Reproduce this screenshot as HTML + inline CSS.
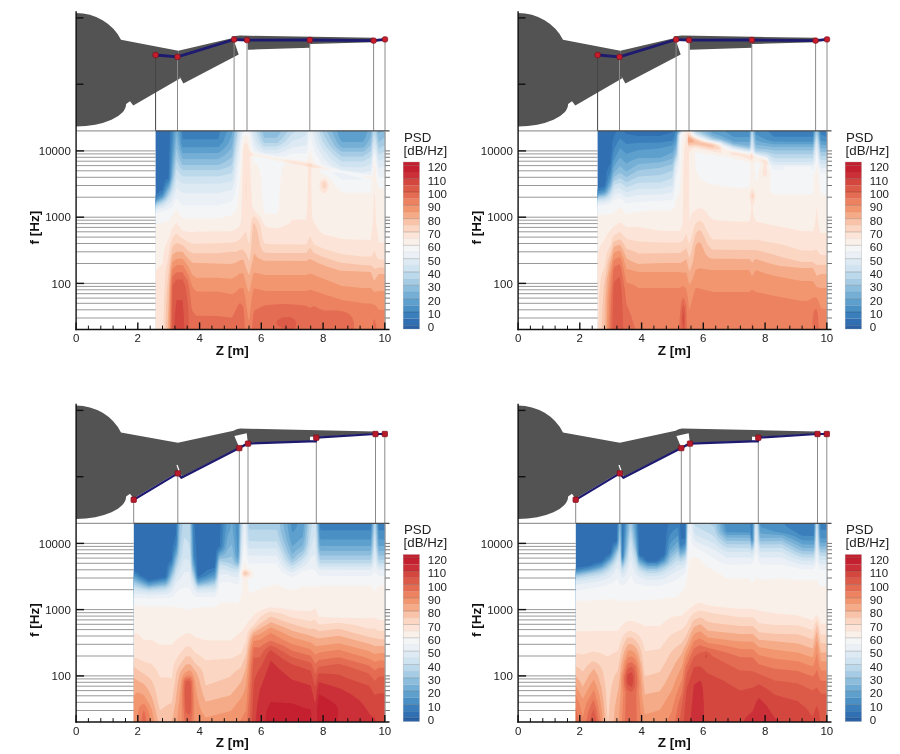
<!DOCTYPE html><html><head><meta charset="utf-8"><style>html,body{margin:0;padding:0;background:#fff;overflow:hidden;width:900px;height:754px;}svg{display:block;filter:blur(0.5px);}</style></head><body>
<svg width="900" height="754" viewBox="0 0 900 754">
<rect width="900" height="754" fill="#fff"/>
<g>
<g>
<rect x="155.6" y="130.9" width="229.2" height="198.7" fill="#306fb2"/>
<path d="M170.5 130.9l214.3 0 0 198.7-229.2 0 0-134.5 4-3.8 3-1.5 2-8.1 1.4-1.9 2.5-1.5 1.4-47.4z" fill="#3a7fbb"/>
<path d="M172.5 130.9l9.5 0 .5 7.5 1 .9 33.9 0 1.2-1.4 1.6-7 164.6 0 0 198.7-229.2 0 0-130.9 3-2.7 4-2.5 3.2-8.7 2.7-3.2 .9-2.8 2.7-47.9z" fill="#4a90c5"/>
<path d="M174.5 130.9l5.4 0 1.4 12 1.2 4.1 1 .3 34.9-.3 4.6-5.1 4.1-11 157.7 0 0 198.7-229.2 0 0-129.4 7-4.4 5.9-11.6 1.3-3.4 .7-4 3.3-45.9z" fill="#5d9fcd"/>
<path d="M175.5 130.9l2.4 0 2 14 2.6 8.2 1 .2 34.9-.2 5.3-4.2 4.2-5 3.4-6.9 1.2-6.1 104.5 0 2 6 2.9 5.2 21 0 2.9-5.2 1.7-6 17.3 0 0 198.7-229.2 0 0-128.2 7-4 1.3-1.6 4.6-8.8 1.9-5.2 .9-5z" fill="#76afd6"/>
<path d="M234.3 130.9l97.5 0 5.6 12 2.2 3 2.3 1.8 21 0 3.3-2.8 2.9-5 1.7-4 .4-5 7.1 0 .5 2.8 2.9-2.8 3.1 0 0 198.7-229.2 0 0-127.1 7-3.8 1.9-1.9 5.6-11 1.9-8 4.5-42 2.3 13.1 3.7 10.2 34.9 .2 2-.7 5.9-3.9 6-6 1-3.6z" fill="#8cbddd"/>
<path d="M236.3 130.9l25.9 0 2 6.5 1 .4 11 0 2.2-1.9 2.9-5 45.4 0 7.4 14 3.8 4 4 2.9 21 0 2-1.1 5.9-5.5 1.6-14.3 4.4 0 2 11.1 6-4.7 0 192.3-229.2 0 0-126 5-2.3 4-2.9 1.9-2.6 3.7-7 2.9-12 3.4-28.4 2.5 9.5 3.5 7 35.9 0 6.7-3 6.2-4.1 1.1-2.9 3.1-24z" fill="#a6cbe4"/>
<path d="M237.3 130.9l21.7 0 3.3 9 1.9 3 1 .2 12-.2 5.4-5 5.1-7 34.4 0 1.9 4.5 6.1 10.5 4.8 5 7 5.5 21 0 6-3.9 1.9-1.6 2.7-20 1.8 0 3.5 17.5 6-3.3 0 184.5-229.2 0 0-124.7 5-2.1 4.3-3 1.7-2 3.9-6.8 3.2-11.2 2.8-20.4 2.7 6.4 3.3 4.3 35.9 0 6.9-2 6-2.5 1.5-4.7z" fill="#bcd8eb"/>
<path d="M239.3 130.9l16.5 0 4.2 11 2.4 3 1.8 1.5 1 .1 11-.1 4.1-1.5 4.8-3.2 7-8.3 4.3-2.5 22.6 0 3.5 10 3.6 6 8.5 9 7.3 5.7 21 0 7.9-4.7 3-20.4 1-.5 4 18.2 6-2.7 0 178.1-229.2 0 0-123.2 6-2.3 3-2.1 2.3-2.2 3.6-5.6 3.7-10.4 2.3-15 4 5.5 2 2 1 .1 34.9-.1 12.9-2.8 1.4-3.7 5.9-38.9z" fill="#d0e3f0"/>
<path d="M240.3 130.9l12.7 0 3.6 11 1.8 3 2.8 2.9 3 2 12 .3 9.9-4.2 3-2 3-3 8-2.7 5-2.4 1-.7 .5-4.2 9.4 0 3.2 11 3.8 7.6 9.2 10.4 5.8 4.7 3.9 2.5 21 .1 7.9-3.3 3-20.4 1-.7 4 17.9 6-2.2 0 171.1-229.2 0 0-121.4 6-2.1 3-1.6 5.9-6.6 4-9.1 2-10.7 4.9 4.7 2.1 .9 34.9 0 12.9-2.4 1-1.2 1.4-6.3z" fill="#dde9f3"/>
<path d="M242.3 130.9l8.6 0 3.4 13.6 1.9 3.4 3 2.9 5 2.1 12 .9 7.9-2.3 8-4.1 14-1.8 2.4-14.7 4.1 0 2.8 11 2.2 6 5.4 9.4 3 3.5 4.1 4 3.2 2 8.6 2.9 7.3 1.1 13.7 1.6 7.9-1.5 3-21.2 1-.6 4 18.9 6-1.9 0 163.5-229.2 0 0-119.5 9-2.9 6.7-5.4 2.7-5 2.5-8.8 6 5.1 1 .1 33.9 0 13.9-3.2 1.4-2.2 2-8 5.8-41.9z" fill="#eaf0f6"/>
<path d="M244.3 131.5l.7-.6 3.3 0 1 1.5 3.8 17.5 1.2 1.6 7.3 2.4 15.6 2.6 6.9-.1 8-2.8 14-.3 1.6-5.4 2.4-12 3.9 14.4 7.6 13.6 1.2 .9 5.1 2 15 4.3 27.9 4 1.2-3.3 1.8-16.9 1-.5 4 23.2 6-.5 0 152.5-229.2 0 0-116.1 10-3.2 6.9-3.3 4-8.7 6 7 1 .1 34.9 0 12.9-3.8 1-.9 2.2-5.9 1.6-7 3.2-24.8 2.3-23.1 1.6-7zM332 172.8l9.9 7 18-.1 2-.2 1.1-.7-21.1-5.9-6.9-.4z" fill="#f4f5f7"/>
<path d="M245.3 135.8l1-.8 2.3 2.9 2.5 12 1.2 2 2 1.2 7.9 2 15 2.6 28.9 3.5 1.2-2.3 2.8-8.5 2.9 8.6 2 3.9 3.3 1.9 14.3 5-12.4 0-1.4 1 1.6 2 5.6 2.8 2.9 2.2 13 14.9 28.9 .2 1.4-11.1-.4-2-1-1.1-9.7-2.9 11.7 .4 1-14.6 1-1.6 1.9 19.8 2.1 8.9 6 .1 0 140.8-229.2 0 0-105.9 7-1 5.9-1.7 8-11.4 6 8.7 1 .2 34.9-.2 12.9-3 2-1.4 3-4.2 1.7-6.9 1.3-11.6 2.8-45.3 1.2-8zM252.7 156.9l.6 4 1 1.6 3.9 3.5 2.1 4.8 1 8 1.3 21 1.6 12.1 1 1 3 .7 8 .3 1-.6 .9-1.5 .6-4 1.6-27 1.1-10 1.2-3 3-3 .3-.9-4.3-2-7.5-2-19.8-3.7z" fill="#faf0ea"/>
<path d="M246.3 141.9l1.6 3 1.4 6 3.7 3-.4 1-2 1-.8 2 2.3 47.9 2.5 5 6.6 6.8 3 6.9 1 1.3 3 1.8 8 .6 6-1.5 6.9-3.2 3-3.8 14-.2 1.1-13.7 .9-37-.4-1-1.6-1.2-14-3.2-10.1-3.5 10.1 .8 14 2.4 4-.9 2.4 1.7 7.5 2.9 1.1 1-8.1 .4-1.5 .6-.2 1 .5 40 .6 7 1.6 5.8 5.7 8.1 3.3 3.4 18.9 5 28.9 .9 2.1-19.2 .9-24.6 1-3.3 1.3 29.9 2.7 19.8 6 0 0 87-229.2 0 0-58.2 2.6-3.7 4.4-4.3 1-10 1.7-7.7 3.2-6.4 3.4-10.5 3.6-5.2 1-1.1 6 8.2 9 1.6 4.9-.7 34.9-.4 5-2.5 3-2.2 1.3-3.7 .7-7 1.9-67.9 1.1-3.6zM323 178.7l2 .2 2 1.5 1.7 4.4-.1 3-1.3 3-1.3 1.5-2 .9-1 0-2.2-2.4-1.4-5 .3-3 .8-2z" fill="#fce5d8"/>
<path d="M307.1 164.5l3-.4 3.3 1.7-3.3 1-2.3-1-1.3-1zM246.3 166.5l0 37.9-.6-13.6zM323 181.8l2-.2 1.6 2.2-.1 3-1.5 2-2-.5-.7-1.5-.2-3zM253.3 216.6l1 0 1.9 1.3 2.9 3.9 1.6 5 2.1 11.9 1.4 4.1 1 .7 6 .7 34.9 .3 3-6.7 1-1.2 3.9 8 9 3.9 18 5.5 21.9 2.6 7.9 0 1.7-1.9 1.3-3.6 1 .2 1.8 5.4 2.2 2.7 6 0 0 70.2-221.6 0 .7-31 1.5-24.9 4.8-28 2.3-8.1 4-4.1 4.9 4.2 6.1 3.8 5 2.2 25.9-.4 13.9-.8 4-.7 4-2.7 1.9-2.4 1.1-2.6 2-1.2 1-1.9 2 12.8 1-1.1 1.9-21.9 .5-2z" fill="#fbd6c3"/>
<path d="M254.3 223.1l2.8 6.7 3.1 15.9 1.7 4 2.3 2.8 6 .5 35.9 0 4-5.3 3.9 5.4 9 3.9 18 5.8 21.9 2.3 7.9 .1 4 3.6 4-1.2 6 0 0 62-219.4 0 .7-24 1.4-20.9 2.4-25 2.6-13.1 4-3.5 6 2 5 5.1 5 3.1 25.9 0 12.9-1.6 5 .2 3-1.8 4-.4 3 4.3 2 5.6 1 1.2 1.7-11.1 1.8-22.9 .5-3z" fill="#f8c3a8"/>
<path d="M176.5 251.7l6 .1 5 6.2 5 4.8 38.8 1.1 5-1.5 4-2.3 3-.4 5 14.6 1 .8 5-22.3 1.4 2.9 2 2 6.5 3 41.9 .2 4-1.9 6.9 3.6 11 4.3 13 3.8 29.8 1.2 3 7.8 1 .3 4-6.1 6 0 0 55.7-217.2 0 1.7-47.9 1.1-15 2.1-12z" fill="#f5ab88"/>
<path d="M177.5 258.7l5-.2 6.1 8.2 3.9 8.3 3.9 2.7 22 .1 12.9 1 5-2.5 3-2.9 4-.1 4 15.3 1 3 1 .5 4-18.3 1-1.4 10.9 2.5 40.9 0 4-1.3 31.8 12.3 21 2 7.9 0 3 3.7 1 .4 4-1.1 6 0 0 38.7-215.7 0 .9-43.9 1.2-16 1.3-7.9 4-3.1z" fill="#f29670"/>
<path d="M176.5 265l6-.1 1 1.3 4.9 8.5 4.1 12 3.9 4.9 22 .1 13.9 2.5 4-2.4 3-3.2 4-.4 1.6 7.5 3.4 23.4 1 1.1 2.6-22.6 1.4-7.7 1-1.7 10.9 2.7 40.9 0 4-1.2 31.8 10.3 21 3.2 7.9 .2 5 2 3 4.3 6 0 0 19.9-214.8 0 .7-41.9 .6-10 1.2-8.7z" fill="#ec8260"/>
<path d="M176.5 272.2l6 0 5 8.2 1.6 6.3 2.4 20 1 4.3 3.9 4.8 21 .1 13.9 1.6 1-.5 1-1.7 5-10.6 1-1.2 1-.3 3 3.2 1.1 11.2 .4 12-73.9 0 1-47.9 .6-5.3zM273.2 304.6l10-.5 11.9 .5 11 1.2 4 2.3 3.9-2.1 6 3.2 4.7 1.4 13.3-.1 6.9 1.3 4 2 3.3 3.8 1.7 5 .2 7-102.2 0 1.4-15.5 1-3.5 9.9-5zM373.8 319.5l1 .1 .3 1 1.7 9-4.9 0z" fill="#e46c52"/>
<path d="M176.5 279.5l6 0 3.1 7.2 2.3 17.9 1.3 25-17.4 0 .7-44.1zM282.2 317.6l6.9-.5 4.3 1.5 1.9 2 .8 2 0 3-1 2.2-2.3 1.8-6.6 0-7.4-3-1.9-2-.3-3 1.6-2.2z" fill="#dc5a48"/>
<path d="M176.5 300.2l6 0 1.3 14.4 .5 15-9.9 0 .5-15z" fill="#d4473f"/>
</g>
<path d="M76.0,13.0 A50,47 0 0 1 121.0,39.7 L178.3,50.7 L179.9,78.6 L133.3,105.6 L130.0,101.3 L126.1,103.9 A50,22.4 0 0 1 76.0,126.4 Z" fill="#535353"/>
<path d="M178.3,50.7 L233.0,38.0 L238.7,54.4 L183.4,83.4 L177.9,73.4 Z" fill="#535353"/>
<path d="M231.0,36.6 L240.0,35.6 L373.0,37.8 L373.5,42.2 L310.0,44.1 L310.0,47.8 L247.8,49.7 L247.8,42.0 Z" fill="#535353"/>
<line x1="155.6" y1="55.0" x2="155.6" y2="130.9" stroke="#444" stroke-width="1"/>
<line x1="177.5" y1="56.9" x2="177.5" y2="130.9" stroke="#8a8a8a" stroke-width="1"/>
<line x1="234.1" y1="39.5" x2="234.1" y2="130.9" stroke="#8a8a8a" stroke-width="1"/>
<line x1="247.0" y1="40.1" x2="247.0" y2="130.9" stroke="#8a8a8a" stroke-width="1"/>
<line x1="309.8" y1="40.0" x2="309.8" y2="130.9" stroke="#8a8a8a" stroke-width="1"/>
<line x1="373.6" y1="40.6" x2="373.6" y2="130.9" stroke="#8a8a8a" stroke-width="1"/>
<line x1="385.0" y1="39.4" x2="385.0" y2="130.9" stroke="#8a8a8a" stroke-width="1"/>
<polyline points="155.6,55.0 177.5,56.9 234.1,39.5 247.0,40.1 309.8,40.0 373.6,40.6 385.0,39.4" fill="none" stroke="#1d1a70" stroke-width="2.8" stroke-linejoin="round"/>
<rect x="152.9" y="52.3" width="5.4" height="5.4" rx="2" fill="#c81d2b" stroke="#7a0f1c" stroke-width="0.7"/>
<rect x="174.8" y="54.2" width="5.4" height="5.4" rx="2" fill="#c81d2b" stroke="#7a0f1c" stroke-width="0.7"/>
<rect x="231.4" y="36.8" width="5.4" height="5.4" rx="2" fill="#c81d2b" stroke="#7a0f1c" stroke-width="0.7"/>
<rect x="244.3" y="37.4" width="5.4" height="5.4" rx="2" fill="#c81d2b" stroke="#7a0f1c" stroke-width="0.7"/>
<rect x="307.1" y="37.3" width="5.4" height="5.4" rx="2" fill="#c81d2b" stroke="#7a0f1c" stroke-width="0.7"/>
<rect x="370.9" y="37.9" width="5.4" height="5.4" rx="2" fill="#c81d2b" stroke="#7a0f1c" stroke-width="0.7"/>
<rect x="382.3" y="36.7" width="5.4" height="5.4" rx="2" fill="#c81d2b" stroke="#7a0f1c" stroke-width="0.7"/>
<line x1="76.1" y1="318.0" x2="155.6" y2="318.0" stroke="#8c8c8c" stroke-width="0.9"/>
<line x1="76.1" y1="309.8" x2="155.6" y2="309.8" stroke="#8c8c8c" stroke-width="0.9"/>
<line x1="76.1" y1="303.3" x2="155.6" y2="303.3" stroke="#8c8c8c" stroke-width="0.9"/>
<line x1="76.1" y1="298.1" x2="155.6" y2="298.1" stroke="#8c8c8c" stroke-width="0.9"/>
<line x1="76.1" y1="293.7" x2="155.6" y2="293.7" stroke="#8c8c8c" stroke-width="0.9"/>
<line x1="76.1" y1="289.8" x2="155.6" y2="289.8" stroke="#8c8c8c" stroke-width="0.9"/>
<line x1="76.1" y1="286.4" x2="155.6" y2="286.4" stroke="#8c8c8c" stroke-width="0.9"/>
<line x1="76.1" y1="283.4" x2="155.6" y2="283.4" stroke="#8c8c8c" stroke-width="0.9"/>
<line x1="76.1" y1="263.5" x2="155.6" y2="263.5" stroke="#8c8c8c" stroke-width="0.9"/>
<line x1="76.1" y1="251.8" x2="155.6" y2="251.8" stroke="#8c8c8c" stroke-width="0.9"/>
<line x1="76.1" y1="243.5" x2="155.6" y2="243.5" stroke="#8c8c8c" stroke-width="0.9"/>
<line x1="76.1" y1="237.1" x2="155.6" y2="237.1" stroke="#8c8c8c" stroke-width="0.9"/>
<line x1="76.1" y1="231.8" x2="155.6" y2="231.8" stroke="#8c8c8c" stroke-width="0.9"/>
<line x1="76.1" y1="227.4" x2="155.6" y2="227.4" stroke="#8c8c8c" stroke-width="0.9"/>
<line x1="76.1" y1="223.6" x2="155.6" y2="223.6" stroke="#8c8c8c" stroke-width="0.9"/>
<line x1="76.1" y1="220.2" x2="155.6" y2="220.2" stroke="#8c8c8c" stroke-width="0.9"/>
<line x1="76.1" y1="217.2" x2="155.6" y2="217.2" stroke="#8c8c8c" stroke-width="0.9"/>
<line x1="76.1" y1="197.2" x2="155.6" y2="197.2" stroke="#8c8c8c" stroke-width="0.9"/>
<line x1="76.1" y1="185.5" x2="155.6" y2="185.5" stroke="#8c8c8c" stroke-width="0.9"/>
<line x1="76.1" y1="177.3" x2="155.6" y2="177.3" stroke="#8c8c8c" stroke-width="0.9"/>
<line x1="76.1" y1="170.8" x2="155.6" y2="170.8" stroke="#8c8c8c" stroke-width="0.9"/>
<line x1="76.1" y1="165.6" x2="155.6" y2="165.6" stroke="#8c8c8c" stroke-width="0.9"/>
<line x1="76.1" y1="161.2" x2="155.6" y2="161.2" stroke="#8c8c8c" stroke-width="0.9"/>
<line x1="76.1" y1="157.3" x2="155.6" y2="157.3" stroke="#8c8c8c" stroke-width="0.9"/>
<line x1="76.1" y1="153.9" x2="155.6" y2="153.9" stroke="#8c8c8c" stroke-width="0.9"/>
<line x1="76.1" y1="150.9" x2="155.6" y2="150.9" stroke="#8c8c8c" stroke-width="0.9"/>
<line x1="76.1" y1="130.9" x2="155.6" y2="130.9" stroke="#9a9a9a" stroke-width="1.1"/>
<line x1="155.6" y1="130.9" x2="389.5" y2="130.9" stroke="#4a4a4a" stroke-width="1.2"/>
<line x1="385.1" y1="130.9" x2="385.1" y2="329.6" stroke="#999" stroke-width="1.2"/>
<line x1="385.1" y1="318.0" x2="390.0" y2="318.0" stroke="#777" stroke-width="1"/>
<line x1="385.1" y1="309.8" x2="390.0" y2="309.8" stroke="#777" stroke-width="1"/>
<line x1="385.1" y1="303.3" x2="390.0" y2="303.3" stroke="#777" stroke-width="1"/>
<line x1="385.1" y1="298.1" x2="390.0" y2="298.1" stroke="#777" stroke-width="1"/>
<line x1="385.1" y1="293.7" x2="390.0" y2="293.7" stroke="#777" stroke-width="1"/>
<line x1="385.1" y1="289.8" x2="390.0" y2="289.8" stroke="#777" stroke-width="1"/>
<line x1="385.1" y1="286.4" x2="390.0" y2="286.4" stroke="#777" stroke-width="1"/>
<line x1="385.1" y1="283.4" x2="390.0" y2="283.4" stroke="#777" stroke-width="1"/>
<line x1="385.1" y1="263.5" x2="390.0" y2="263.5" stroke="#777" stroke-width="1"/>
<line x1="385.1" y1="251.8" x2="390.0" y2="251.8" stroke="#777" stroke-width="1"/>
<line x1="385.1" y1="243.5" x2="390.0" y2="243.5" stroke="#777" stroke-width="1"/>
<line x1="385.1" y1="237.1" x2="390.0" y2="237.1" stroke="#777" stroke-width="1"/>
<line x1="385.1" y1="231.8" x2="390.0" y2="231.8" stroke="#777" stroke-width="1"/>
<line x1="385.1" y1="227.4" x2="390.0" y2="227.4" stroke="#777" stroke-width="1"/>
<line x1="385.1" y1="223.6" x2="390.0" y2="223.6" stroke="#777" stroke-width="1"/>
<line x1="385.1" y1="220.2" x2="390.0" y2="220.2" stroke="#777" stroke-width="1"/>
<line x1="385.1" y1="217.2" x2="390.0" y2="217.2" stroke="#777" stroke-width="1"/>
<line x1="385.1" y1="197.2" x2="390.0" y2="197.2" stroke="#777" stroke-width="1"/>
<line x1="385.1" y1="185.5" x2="390.0" y2="185.5" stroke="#777" stroke-width="1"/>
<line x1="385.1" y1="177.3" x2="390.0" y2="177.3" stroke="#777" stroke-width="1"/>
<line x1="385.1" y1="170.8" x2="390.0" y2="170.8" stroke="#777" stroke-width="1"/>
<line x1="385.1" y1="165.6" x2="390.0" y2="165.6" stroke="#777" stroke-width="1"/>
<line x1="385.1" y1="161.2" x2="390.0" y2="161.2" stroke="#777" stroke-width="1"/>
<line x1="385.1" y1="157.3" x2="390.0" y2="157.3" stroke="#777" stroke-width="1"/>
<line x1="385.1" y1="153.9" x2="390.0" y2="153.9" stroke="#777" stroke-width="1"/>
<line x1="385.1" y1="150.9" x2="390.0" y2="150.9" stroke="#777" stroke-width="1"/>
<line x1="76.1" y1="11.2" x2="76.1" y2="330.3" stroke="#111" stroke-width="1.4"/>
<line x1="76.1" y1="17.9" x2="83.5" y2="17.9" stroke="#111" stroke-width="1.4"/>
<line x1="76.1" y1="84.2" x2="83.5" y2="84.2" stroke="#111" stroke-width="1.4"/>
<line x1="75.4" y1="329.6" x2="389.5" y2="329.6" stroke="#111" stroke-width="1.5"/>
<line x1="76.1" y1="329.6" x2="76.1" y2="322.4" stroke="#111" stroke-width="1.4"/>
<line x1="88.4" y1="329.6" x2="88.4" y2="325.6" stroke="#111" stroke-width="1"/>
<line x1="100.8" y1="329.6" x2="100.8" y2="325.6" stroke="#111" stroke-width="1"/>
<line x1="113.1" y1="329.6" x2="113.1" y2="325.6" stroke="#111" stroke-width="1"/>
<line x1="125.5" y1="329.6" x2="125.5" y2="325.6" stroke="#111" stroke-width="1"/>
<line x1="137.8" y1="329.6" x2="137.8" y2="322.4" stroke="#111" stroke-width="1.4"/>
<line x1="150.2" y1="329.6" x2="150.2" y2="325.6" stroke="#111" stroke-width="1"/>
<line x1="162.5" y1="329.6" x2="162.5" y2="325.6" stroke="#111" stroke-width="1"/>
<line x1="174.9" y1="329.6" x2="174.9" y2="325.6" stroke="#111" stroke-width="1"/>
<line x1="187.2" y1="329.6" x2="187.2" y2="325.6" stroke="#111" stroke-width="1"/>
<line x1="199.6" y1="329.6" x2="199.6" y2="322.4" stroke="#111" stroke-width="1.4"/>
<line x1="211.9" y1="329.6" x2="211.9" y2="325.6" stroke="#111" stroke-width="1"/>
<line x1="224.3" y1="329.6" x2="224.3" y2="325.6" stroke="#111" stroke-width="1"/>
<line x1="236.6" y1="329.6" x2="236.6" y2="325.6" stroke="#111" stroke-width="1"/>
<line x1="249.0" y1="329.6" x2="249.0" y2="325.6" stroke="#111" stroke-width="1"/>
<line x1="261.3" y1="329.6" x2="261.3" y2="322.4" stroke="#111" stroke-width="1.4"/>
<line x1="273.7" y1="329.6" x2="273.7" y2="325.6" stroke="#111" stroke-width="1"/>
<line x1="286.0" y1="329.6" x2="286.0" y2="325.6" stroke="#111" stroke-width="1"/>
<line x1="298.4" y1="329.6" x2="298.4" y2="325.6" stroke="#111" stroke-width="1"/>
<line x1="310.7" y1="329.6" x2="310.7" y2="325.6" stroke="#111" stroke-width="1"/>
<line x1="323.1" y1="329.6" x2="323.1" y2="322.4" stroke="#111" stroke-width="1.4"/>
<line x1="335.4" y1="329.6" x2="335.4" y2="325.6" stroke="#111" stroke-width="1"/>
<line x1="347.8" y1="329.6" x2="347.8" y2="325.6" stroke="#111" stroke-width="1"/>
<line x1="360.1" y1="329.6" x2="360.1" y2="325.6" stroke="#111" stroke-width="1"/>
<line x1="372.5" y1="329.6" x2="372.5" y2="325.6" stroke="#111" stroke-width="1"/>
<line x1="384.8" y1="329.6" x2="384.8" y2="322.4" stroke="#111" stroke-width="1.4"/>
<line x1="76.1" y1="283.4" x2="84.1" y2="283.4" stroke="#111" stroke-width="1.4"/>
<line x1="76.1" y1="217.2" x2="84.1" y2="217.2" stroke="#111" stroke-width="1.4"/>
<line x1="76.1" y1="150.9" x2="84.1" y2="150.9" stroke="#111" stroke-width="1.4"/>
<text x="70.8" y="287.5" text-anchor="end" style="font-size:11.5px;font-family:'Liberation Sans',Arial,sans-serif" fill="#222">100</text>
<text x="70.8" y="221.2" text-anchor="end" style="font-size:11.5px;font-family:'Liberation Sans',Arial,sans-serif" fill="#222">1000</text>
<text x="70.8" y="155.0" text-anchor="end" style="font-size:11.5px;font-family:'Liberation Sans',Arial,sans-serif" fill="#222">10000</text>
<text x="76.1" y="342.2" text-anchor="middle" style="font-size:11.5px;font-family:'Liberation Sans',Arial,sans-serif" fill="#222">0</text>
<text x="137.8" y="342.2" text-anchor="middle" style="font-size:11.5px;font-family:'Liberation Sans',Arial,sans-serif" fill="#222">2</text>
<text x="199.6" y="342.2" text-anchor="middle" style="font-size:11.5px;font-family:'Liberation Sans',Arial,sans-serif" fill="#222">4</text>
<text x="261.3" y="342.2" text-anchor="middle" style="font-size:11.5px;font-family:'Liberation Sans',Arial,sans-serif" fill="#222">6</text>
<text x="323.1" y="342.2" text-anchor="middle" style="font-size:11.5px;font-family:'Liberation Sans',Arial,sans-serif" fill="#222">8</text>
<text x="384.8" y="342.2" text-anchor="middle" style="font-size:11.5px;font-family:'Liberation Sans',Arial,sans-serif" fill="#222">10</text>
<text x="232.3" y="354.7" text-anchor="middle" style="font-size:13.5px;font-weight:bold;font-family:'Liberation Sans',Arial,sans-serif" fill="#111">Z [m]</text>
<text transform="translate(38.6,227.6) rotate(-90)" text-anchor="middle" style="font-size:13.5px;font-weight:bold;font-family:'Liberation Sans',Arial,sans-serif" fill="#111">f [Hz]</text>
<rect x="403.2" y="325.30" width="16.3" height="3.70" fill="#2a62a8"/>
<rect x="403.2" y="318.64" width="16.3" height="6.66" fill="#306fb2"/>
<rect x="403.2" y="311.97" width="16.3" height="6.67" fill="#3a7fbb"/>
<rect x="403.2" y="305.31" width="16.3" height="6.67" fill="#4a90c5"/>
<rect x="403.2" y="298.64" width="16.3" height="6.66" fill="#5d9fcd"/>
<rect x="403.2" y="291.98" width="16.3" height="6.67" fill="#76afd6"/>
<rect x="403.2" y="285.31" width="16.3" height="6.67" fill="#8cbddd"/>
<rect x="403.2" y="278.65" width="16.3" height="6.66" fill="#a6cbe4"/>
<rect x="403.2" y="271.98" width="16.3" height="6.67" fill="#bcd8eb"/>
<rect x="403.2" y="265.32" width="16.3" height="6.66" fill="#d0e3f0"/>
<rect x="403.2" y="258.65" width="16.3" height="6.67" fill="#dde9f3"/>
<rect x="403.2" y="251.99" width="16.3" height="6.67" fill="#eaf0f6"/>
<rect x="403.2" y="245.32" width="16.3" height="6.66" fill="#f4f5f7"/>
<rect x="403.2" y="238.66" width="16.3" height="6.66" fill="#faf0ea"/>
<rect x="403.2" y="231.99" width="16.3" height="6.67" fill="#fce5d8"/>
<rect x="403.2" y="225.33" width="16.3" height="6.66" fill="#fbd6c3"/>
<rect x="403.2" y="218.66" width="16.3" height="6.67" fill="#f8c3a8"/>
<rect x="403.2" y="212.00" width="16.3" height="6.66" fill="#f5ab88"/>
<rect x="403.2" y="205.33" width="16.3" height="6.66" fill="#f29670"/>
<rect x="403.2" y="198.67" width="16.3" height="6.67" fill="#ec8260"/>
<rect x="403.2" y="192.00" width="16.3" height="6.66" fill="#e46c52"/>
<rect x="403.2" y="185.34" width="16.3" height="6.66" fill="#dc5a48"/>
<rect x="403.2" y="178.67" width="16.3" height="6.67" fill="#d4473f"/>
<rect x="403.2" y="172.01" width="16.3" height="6.66" fill="#cb3038"/>
<rect x="403.2" y="165.34" width="16.3" height="6.66" fill="#c4202f"/>
<rect x="403.2" y="162.01" width="16.3" height="3.33" fill="#c4202f"/>
<line x1="403.2" y1="325.30" x2="419.5" y2="325.30" stroke="#000" stroke-opacity="0.22" stroke-width="0.8"/>
<line x1="403.2" y1="318.64" x2="419.5" y2="318.64" stroke="#000" stroke-opacity="0.05" stroke-width="0.8"/>
<line x1="403.2" y1="311.97" x2="419.5" y2="311.97" stroke="#000" stroke-opacity="0.22" stroke-width="0.8"/>
<line x1="403.2" y1="305.31" x2="419.5" y2="305.31" stroke="#000" stroke-opacity="0.05" stroke-width="0.8"/>
<line x1="403.2" y1="298.64" x2="419.5" y2="298.64" stroke="#000" stroke-opacity="0.22" stroke-width="0.8"/>
<line x1="403.2" y1="291.98" x2="419.5" y2="291.98" stroke="#000" stroke-opacity="0.05" stroke-width="0.8"/>
<line x1="403.2" y1="285.31" x2="419.5" y2="285.31" stroke="#000" stroke-opacity="0.22" stroke-width="0.8"/>
<line x1="403.2" y1="278.65" x2="419.5" y2="278.65" stroke="#000" stroke-opacity="0.05" stroke-width="0.8"/>
<line x1="403.2" y1="271.98" x2="419.5" y2="271.98" stroke="#000" stroke-opacity="0.22" stroke-width="0.8"/>
<line x1="403.2" y1="265.32" x2="419.5" y2="265.32" stroke="#000" stroke-opacity="0.05" stroke-width="0.8"/>
<line x1="403.2" y1="258.65" x2="419.5" y2="258.65" stroke="#000" stroke-opacity="0.22" stroke-width="0.8"/>
<line x1="403.2" y1="251.99" x2="419.5" y2="251.99" stroke="#000" stroke-opacity="0.05" stroke-width="0.8"/>
<line x1="403.2" y1="245.32" x2="419.5" y2="245.32" stroke="#000" stroke-opacity="0.22" stroke-width="0.8"/>
<line x1="403.2" y1="238.66" x2="419.5" y2="238.66" stroke="#000" stroke-opacity="0.05" stroke-width="0.8"/>
<line x1="403.2" y1="231.99" x2="419.5" y2="231.99" stroke="#000" stroke-opacity="0.22" stroke-width="0.8"/>
<line x1="403.2" y1="225.33" x2="419.5" y2="225.33" stroke="#000" stroke-opacity="0.05" stroke-width="0.8"/>
<line x1="403.2" y1="218.66" x2="419.5" y2="218.66" stroke="#000" stroke-opacity="0.22" stroke-width="0.8"/>
<line x1="403.2" y1="212.00" x2="419.5" y2="212.00" stroke="#000" stroke-opacity="0.05" stroke-width="0.8"/>
<line x1="403.2" y1="205.33" x2="419.5" y2="205.33" stroke="#000" stroke-opacity="0.22" stroke-width="0.8"/>
<line x1="403.2" y1="198.67" x2="419.5" y2="198.67" stroke="#000" stroke-opacity="0.05" stroke-width="0.8"/>
<line x1="403.2" y1="192.00" x2="419.5" y2="192.00" stroke="#000" stroke-opacity="0.22" stroke-width="0.8"/>
<line x1="403.2" y1="185.34" x2="419.5" y2="185.34" stroke="#000" stroke-opacity="0.05" stroke-width="0.8"/>
<line x1="403.2" y1="178.67" x2="419.5" y2="178.67" stroke="#000" stroke-opacity="0.22" stroke-width="0.8"/>
<line x1="403.2" y1="172.01" x2="419.5" y2="172.01" stroke="#000" stroke-opacity="0.05" stroke-width="0.8"/>
<line x1="403.2" y1="165.34" x2="419.5" y2="165.34" stroke="#000" stroke-opacity="0.22" stroke-width="0.8"/>
<rect x="403.2" y="162.01" width="16.3" height="166.99" fill="none" stroke="#999" stroke-opacity="0.5" stroke-width="0.6"/>
<text x="427.8" y="331.4" style="font-size:11.5px;font-family:'Liberation Sans',Arial,sans-serif" fill="#222">0</text>
<text x="427.8" y="318.1" style="font-size:11.5px;font-family:'Liberation Sans',Arial,sans-serif" fill="#222">10</text>
<text x="427.8" y="304.7" style="font-size:11.5px;font-family:'Liberation Sans',Arial,sans-serif" fill="#222">20</text>
<text x="427.8" y="291.4" style="font-size:11.5px;font-family:'Liberation Sans',Arial,sans-serif" fill="#222">30</text>
<text x="427.8" y="278.1" style="font-size:11.5px;font-family:'Liberation Sans',Arial,sans-serif" fill="#222">40</text>
<text x="427.8" y="264.8" style="font-size:11.5px;font-family:'Liberation Sans',Arial,sans-serif" fill="#222">50</text>
<text x="427.8" y="251.4" style="font-size:11.5px;font-family:'Liberation Sans',Arial,sans-serif" fill="#222">60</text>
<text x="427.8" y="238.1" style="font-size:11.5px;font-family:'Liberation Sans',Arial,sans-serif" fill="#222">70</text>
<text x="427.8" y="224.8" style="font-size:11.5px;font-family:'Liberation Sans',Arial,sans-serif" fill="#222">80</text>
<text x="427.8" y="211.4" style="font-size:11.5px;font-family:'Liberation Sans',Arial,sans-serif" fill="#222">90</text>
<text x="427.8" y="198.1" style="font-size:11.5px;font-family:'Liberation Sans',Arial,sans-serif" fill="#222">100</text>
<text x="427.8" y="184.8" style="font-size:11.5px;font-family:'Liberation Sans',Arial,sans-serif" fill="#222">110</text>
<text x="427.8" y="171.4" style="font-size:11.5px;font-family:'Liberation Sans',Arial,sans-serif" fill="#222">120</text>
<text x="404.0" y="141.6" style="font-size:13.3px;font-family:'Liberation Sans',Arial,sans-serif" fill="#222">PSD</text>
<text x="403.6" y="154.8" style="font-size:13.3px;font-family:'Liberation Sans',Arial,sans-serif" fill="#222">[dB/Hz]</text>
</g>
<g>
<g>
<rect x="597.6" y="130.9" width="229.2" height="198.7" fill="#306fb2"/>
<path d="M616.5 131.5l.4-.6 6.2 0 3.4 3.2 11.9 1.8 21 .1 12.9-3.4 .4-1.7 154.1 0 0 198.7-229.2 0 0-140.8 7-2.7 .4-1.3 1.8-13 1.3-4 2.4-4.4 2.1-22.5 1.2-4z" fill="#3a7fbb"/>
<path d="M676.3 130.9l91.1 0 6.6 5.6 1 .3 13.9 0 23.9 0 .3-5.9 7.4 0 .3 3.4 6 2.9 0 192.4-229.2 0 0-138.2 7-2.3 1.5-3.3 2.5-9.3 1.9-4.5 2.7-19.1 1.3-4.7 5-9.2 1-.1 6 5.2 11-1 22.9-.6 11.9-1.8 2.1-4.8 1.3-5z" fill="#4a90c5"/>
<path d="M677.3 130.9l47.9 0 1.7 2 7.2 4 1 0 14 0 .4-6 6 0 .5 3.9 11.3 5.1 6.7 1.7 15.9 .1 22.9 0 1.1-10.8 5.7 0 1.2 9.7 6 1.3 0 187.7-229.2 0 0-136.2 7-1.9 2.6-4.7 3.3-9.1 3-16.9 6-11.9 1-.3 6 5.1 11.9-3.8 21-1.3 12.9-3.2 3-4.6z" fill="#5d9fcd"/>
<path d="M678.3 130.9l32.6 0 1.2 2 1.1 .7 8 2.5 12.9 5.6 15 .3 1-6 .1-5.1 4.4 0 1.4 9.7 7 1.9 11 1.7 14.9 .1 23.9 0 1.8-13.4 4.2 0 2 13.7 6 .7 0 184.3-229.2 0 0-134.9 7-1.5 1.9-2.4 4-8.2 3-14.6 1-2.4 5-7.4 1-.3 6 5.5 5-2.8 6.9-2.6 22-.3 11.9-5.3 4-9.3 .7-9.2z" fill="#76afd6"/>
<path d="M679.3 131l26-.1 6.9 5.2 16.9 5.3 5 2.3 15 1.8 1-3.9 .6-10.7 3.2 0 2.1 14.1 18 1.9 38.8 .1 1.4-6.1 1.2-10 2.6 0 2.8 17.3 6 .3 0 181.1-229.2 0 0-133.8 7-1.3 2.7-2.7 3.3-6 2.9-12 1-1.9 5-5.4 1-.1 5 4.6 1 .4 11.9-7.3 22-1.8 11.9-3.5 4-10.7 1.1-13.2 .4-2z" fill="#8cbddd"/>
<path d="M679.3 131.8l1-.9 19.6 0 13.3 7.3 8 1.9 12.9 4.9 15 2.4 1.1-2.5 .9-14 2 0 1.5 12 1.4 5.7 10 .6 9 1.2 37.8 0 3-18 .5-1.5 .9 0 3.6 21.2 6 0 0 177.5-229.2 0 0-132.8 7-1 2.6-2 3.7-6 2.6-9.6 1-1.5 5-3.5 1 0 6 4 11.9-6.9 22-2.6 11.9-3.5 4-11.9 1.5-17.4z" fill="#a6cbe4"/>
<path d="M680.3 131.6l.5-.7 14.8 0 16.6 8.2 9 1.9 12.9 5 15 2.7 1.2-1.8 1.5-16 .5 0 2 15 .7 3.2 1 1.8 10 .8 9 2.6 37.8 0 4-21.3 4 23.1 6-.1 0 173.6-229.2 0 0-131.6 7-.9 3-1.9 1.9-2.3 1.7-3.1 2.3-7.6 1-1.4 5-2.5 1 0 6 4 11.9-5.7 22-1.5 11.9-4.3 1.6-7.9 2.9-9 1.5-19 .8-2z" fill="#bcd8eb"/>
<path d="M681.3 130.9l13.1 0 1.9 2.2 15.7 6.8 9.2 1.8 1 .8 11.9 4.5 15 2.8 1-.7 .7-2.2 1.3-11.6 1.7 12.6 1.8 4 11.4 2.2 8 4.1 37.8 .1 4-21.5 2.8 18.1 1.2 5.2 6 0 0 169.5-229.2 0 0-130.2 7-.7 3.4-1.9 3.2-4 2.3-6.7 1-1.3 5-2 1 .2 6 4.3 11.9-4.5 22-.4 11.9-4.3 2.2-13.3 2.9-9.9 1.4-20z" fill="#d0e3f0"/>
<path d="M681.3 131.9l.5-1 11.7 0 1 2 1.8 1.5 13.4 5.5 11.5 2.5 1 1 11.9 4.5 15 2.9 1-.5 .7-1.4 1.3-7.1 1.3 8.1 1.6 2.7 1 .8 11 2.5 6 5.1 2 .9 37.8 0 4-20.8 2.4 16.8 1.6 6.1 6 0 0 165.6-229.2 0 0-128.6 7-.3 4-2 2.1-1.9 3.8-7.6 5-1.7 7 4.7 11.9-3.4 22 0 11.9-3.6 3.1-19.4 2.6-8.9 1.3-22z" fill="#dde9f3"/>
<path d="M682.3 130.9l10.2 0 1.7 3 2.1 1.6 11.1 4.4 13.8 3.3 1 1.1 3.9 1.8 8 2.8 15 2.9 1.3-.9 1.7-3.7 1 4.1 1.9 2.4 12 3.6 1 .6 1 2.7 2 2.4 2 1.4 2 .7 37.8 0 1.6-4.2 2.4-14.7 1.8 13.7 1.3 5.9 .9 1.9 6 0 0 161.9-229.2 0 0-126.8 7-.1 4-1.3 2.9-2.2 3-4.9 5-1.6 7 4.8 11.9-2.6 22-.3 11.9-2.4 1.5-6.4 2.5-18.4 2.4-8.5 .9-23 .7-2z" fill="#eaf0f6"/>
<path d="M683.3 130.9l8.2 0 1.5 3 2.3 2.1 10.9 4.2 14.9 3.7 1.1 1.6 8.9 3.6 18 3.7 1-.4 2-2.5 1 3 2.9 2.4 9 2.3 3 1.5 1 4.9 3 3.9 3 1.7 8 .1 .9-3.1 27 0 1 3.1 .9 0 2.4-6.8 1.6-11 1.4 12.9 2.2 7 .4 .9 6 0 0 156.9-229.2 0 0-124.2 7 0 5.9-1.3 4-4 5-2 1 .3 6 5.1 11.9-1.4 33.9-2.1 1.9-6.2 2.1-17.5 2-6 1.2-7.4 .6-27 .2-.9 1.9-2.1 .5-2z" fill="#f4f5f7"/>
<path d="M683.3 130.9l7.2 0 1.8 3.6 3 2.3 10.6 4.1 12.8 3 2.5 1 1 2.2 4.9 2.4 22 4.4 1-.3 2-2 1 2.6 2.9 2.1 8 2 3.3 1.6 .8 1 .5 5.9 2.1 8-.9 15 2 3 3.2 2.1 37.8-.7 1.4-18.4 2.6-11.2 2.7 15.2 1.3 15.1 6 0 0 134.7-229.2 0 0-115 7 .4 8.9-1.8 6-6.3 1 .3 4 5.1 2 1.7 11.9-2.5 22-1.4 11.9 .3 2.4-3.6 1.6-7.6 3-6 1-5.1 1.3-41.2zM695.1 152.9l-.1 8 1.3 9.9 3.7 7 3.2 3.1 3.7 1.9 5.3 1.6 21.9 3.3 11 0 4-1 1-5.1 .2-13.8-.2-3.9-1-1.5-26.9-7-1 1.4-24.9-4.9zM755.1 162.9l-.3 1.9 1.2 17.5 1-.3 .4-1.2 .8-9 2.1-7-.1-.9-1.2-1.3-2-.5z" fill="#faf0ea"/>
<path d="M688.3 130.9l1.2 0 1.8 4 3 2.3 9.9 4 9 1.8 5.5 1.9 2.5 1.3 .6 2.7-.6 4.4-25.9-5.3-3.4 .9-2.3 2-.6 5 .3 66.1 1.8-7.2 1.7-3 4.4-3 3-.7 2 .6 2 1.4 7 8.2 3 1.7 19.9 1.6 15 0 1.1-2.8 1.2-11-1.9-12 .9-4 1.7-4 2.6 4 .9 3-.1 4-2.4 6-.4 3 1.2 8 2.1 5.8 45.9 9.5 10.9 .1 1.4-3.4 1-5 1.6-18.4 1 15.9 2 10.3 1 2.5 6 0 0 96.5-229.2 0 0-75.6 1.5-5.3 2.3-5 3.2-4.3 2.2-4.7 5.6-6.9 7.1-5.4 1 .1 6 4.6 11.9-.2 22 3.9 19.9 .2 1.7-5.2 .7-5 .6-50 1-20.9 2-16.9 1 .5 .3-2.6zM730.1 152.6l5-.3 14 3 3-2.2 1 2.7 1.6 2.1-1.6 .6-1 3.4-2-2.1-9-3.3-9.1-1.6-2.4-1-.2-1zM761 159.6l4 .4 1.5 .9 1.2 2-1.5 2.9 1 5-.2 4-1 2-1 .5-1.7-1.5-.8-3 .2-4 1.3-4-1-1.9-2.5-3z" fill="#fce5d8"/>
<path d="M688.3 133.4l1 .4 1.6 2.1 2.4 1.7 7.9 3.6 12 2.5 2.9 1.2 3.7 3 0 1-2.6 .6-5 .1-16.9-3.5-7 1-.8-6.2zM751.1 155.8l1-.8 0 3.6-1.1-.7zM752.1 192.7l1.2 1.1 .5 2-.3 2-1.4 1.7-1-3.7zM697.2 221.8l3-1 2.8 2 7.1 13.9 3.1 2.9 42.8 .2 25 4.5 20.9 6.2 10.9 0 4-1 2 3.4 2 2.1 6 0 0 74.6-228.8 0 1.3-35.9 1.3-14 1.6-7 2.4-6.2 2.3-13.8 3.6-7.7 1.3-5.3 1.7-4.1 6-3.5 1 .3 1.5 1.3 4.5 5.4 11.9 2.5 21 .9 19.9 0 1.9-.8 2.9-3 2.2-5.6 1.1 5.6 1.9 5.6 5.2-18.5 .8-1.8z" fill="#fbd6c3"/>
<path d="M688.3 135.3l4 2.8 7.9 4.2 13 2.6 .9 2-1.9 .7-15.9-3.2-8 .6-.6-5.1zM698.2 230.7l2-.3 1.5 1.3 6.5 13.7 3 3.3 2 1.1 42.8 .2 12 2.9 15.9 4.8 18 4.3 10.9 .1 4 3 10-.3 0 64.8-225 0 .7-23 1.3-19.9 4.1-26 2.6-7.4 3-11.2 1-.9 5-1.8 1 .3 3 3.7 3 5.7 7 2.1 4.9 2.2 40.9-.3 1-.2 6-4.9 3 10 1.3-3.3 4.7-20.1 1-2.1z" fill="#f8c3a8"/>
<path d="M688.3 136.9l5.6 4 0 1-5.6 1.4zM698.2 242.5l2 .1 1 1.1 4 9.9 1.4 2.1 2.6 2 3 1 36.9 .2 1 .6 2 3.2 2-2.4 1.9-1.3 12 4.1 12 2.9 21.9 1.9 10.9 0 4 8.2 4-2.2 6 0 0 55.7-221.7 0 .5-32 1.2-17.9 2.4-14 4.3-18 1-1.2 5-1.7 1 .5 2.5 4.4 3.5 8.6 5.8 3.4 6.1 2.2 22-1 19.9 0 2.6-1.2 3.4-2.5 3 12.6 1.2-2.1 2.5-8 2.3-14.7 1-2.6z" fill="#f5ab88"/>
<path d="M619.5 250.4l1 1 2.7 6.3 3.3 11.1 11.9 3.1 40.9 0 4 .8 3-.3 3 12.7 2.9-5.4 3.1-8.7 1-1.5 3.9-1.2 10 1.6 38.9 0 3 6.3 3.9-6.2 9 3.2 10 2.8 26.9 4.9 10.9 0 4 6.1 4 .9 6 0 0 41.7-220 0 .7-33 1.7-20.9 4.3-21.7 1-1.4z" fill="#f29670"/>
<path d="M618.5 257.4l1-.5 1 1.1 1.7 4.7 4.3 19.8 7 2.2 4.9 3.2 39.9 0 2-.4 3-1.8 3 3.4 1.7 9.5 1.3 11.4 5.9-21.3 1.1-1 16.9 4.2 35.9 0 3-2.1 3.9 2.2 19 4 26.9 4.9 6-.2 4.9-3 3-.1 1 .5 1.6 2.5 2.4 7.6 2 .6 4 .1 0 20.7-218.3 0 .7-29 1.9-24.9 2.4-14.9 1-1.6z" fill="#ec8260"/>
<path d="M618.5 264.5l1-.5 .5 .7 1.3 4 3.7 22 1.5 13.5 4.6 11.4 4.3 14-25.2 0 1.1-33.9 2.2-26 1-2.7zM683.3 297.5l1.6 3.1 1.3 6 .9 23-26.7 0 15.9 0 2-1.1 1-5.2 1.6-18.7 1.2-5zM815.8 308.9l1 .6 1.1 5.1 1.1 15-6.1 0-.2-1-.4-6 .9-8 1.2-4zM752.1 322.6l1.7 7-3.1 0z" fill="#e46c52"/>
<path d="M619.5 276.8l1 4 1.2 10.9 1.7 37.9-11.1 0 1.2-43.8 1-4.2zM683.3 305l1.1 2.6 .8 6-.2 16-3.4 0-.1-16 .8-6z" fill="#dc5a48"/>
<path d="M683.3 312.6l.6 6-.6 9-.6-9z" fill="#d4473f"/>
</g>
<path d="M518.0,13.0 A50,47 0 0 1 563.0,39.7 L620.3,50.7 L621.9,78.6 L575.3,105.6 L572.0,101.3 L568.1,103.9 A50,22.4 0 0 1 518.0,126.4 Z" fill="#535353"/>
<path d="M620.3,50.7 L675.0,38.0 L680.7,54.4 L625.4,83.4 L619.9,73.4 Z" fill="#535353"/>
<path d="M673.0,36.6 L682.0,35.6 L815.0,37.8 L815.5,42.2 L752.0,44.1 L752.0,47.8 L689.8,49.7 L689.8,42.0 Z" fill="#535353"/>
<line x1="597.6" y1="55.0" x2="597.6" y2="130.9" stroke="#444" stroke-width="1"/>
<line x1="619.5" y1="56.9" x2="619.5" y2="130.9" stroke="#8a8a8a" stroke-width="1"/>
<line x1="676.1" y1="39.5" x2="676.1" y2="130.9" stroke="#8a8a8a" stroke-width="1"/>
<line x1="689.0" y1="40.1" x2="689.0" y2="130.9" stroke="#8a8a8a" stroke-width="1"/>
<line x1="751.8" y1="40.0" x2="751.8" y2="130.9" stroke="#8a8a8a" stroke-width="1"/>
<line x1="815.6" y1="40.6" x2="815.6" y2="130.9" stroke="#8a8a8a" stroke-width="1"/>
<line x1="827.0" y1="39.4" x2="827.0" y2="130.9" stroke="#8a8a8a" stroke-width="1"/>
<polyline points="597.6,55.0 619.5,56.9 676.1,39.5 689.0,40.1 751.8,40.0 815.6,40.6 827.0,39.4" fill="none" stroke="#1d1a70" stroke-width="2.8" stroke-linejoin="round"/>
<rect x="594.9" y="52.3" width="5.4" height="5.4" rx="2" fill="#c81d2b" stroke="#7a0f1c" stroke-width="0.7"/>
<rect x="616.8" y="54.2" width="5.4" height="5.4" rx="2" fill="#c81d2b" stroke="#7a0f1c" stroke-width="0.7"/>
<rect x="673.4" y="36.8" width="5.4" height="5.4" rx="2" fill="#c81d2b" stroke="#7a0f1c" stroke-width="0.7"/>
<rect x="686.3" y="37.4" width="5.4" height="5.4" rx="2" fill="#c81d2b" stroke="#7a0f1c" stroke-width="0.7"/>
<rect x="749.1" y="37.3" width="5.4" height="5.4" rx="2" fill="#c81d2b" stroke="#7a0f1c" stroke-width="0.7"/>
<rect x="812.9" y="37.9" width="5.4" height="5.4" rx="2" fill="#c81d2b" stroke="#7a0f1c" stroke-width="0.7"/>
<rect x="824.3" y="36.7" width="5.4" height="5.4" rx="2" fill="#c81d2b" stroke="#7a0f1c" stroke-width="0.7"/>
<line x1="518.1" y1="318.0" x2="597.6" y2="318.0" stroke="#8c8c8c" stroke-width="0.9"/>
<line x1="518.1" y1="309.8" x2="597.6" y2="309.8" stroke="#8c8c8c" stroke-width="0.9"/>
<line x1="518.1" y1="303.3" x2="597.6" y2="303.3" stroke="#8c8c8c" stroke-width="0.9"/>
<line x1="518.1" y1="298.1" x2="597.6" y2="298.1" stroke="#8c8c8c" stroke-width="0.9"/>
<line x1="518.1" y1="293.7" x2="597.6" y2="293.7" stroke="#8c8c8c" stroke-width="0.9"/>
<line x1="518.1" y1="289.8" x2="597.6" y2="289.8" stroke="#8c8c8c" stroke-width="0.9"/>
<line x1="518.1" y1="286.4" x2="597.6" y2="286.4" stroke="#8c8c8c" stroke-width="0.9"/>
<line x1="518.1" y1="283.4" x2="597.6" y2="283.4" stroke="#8c8c8c" stroke-width="0.9"/>
<line x1="518.1" y1="263.5" x2="597.6" y2="263.5" stroke="#8c8c8c" stroke-width="0.9"/>
<line x1="518.1" y1="251.8" x2="597.6" y2="251.8" stroke="#8c8c8c" stroke-width="0.9"/>
<line x1="518.1" y1="243.5" x2="597.6" y2="243.5" stroke="#8c8c8c" stroke-width="0.9"/>
<line x1="518.1" y1="237.1" x2="597.6" y2="237.1" stroke="#8c8c8c" stroke-width="0.9"/>
<line x1="518.1" y1="231.8" x2="597.6" y2="231.8" stroke="#8c8c8c" stroke-width="0.9"/>
<line x1="518.1" y1="227.4" x2="597.6" y2="227.4" stroke="#8c8c8c" stroke-width="0.9"/>
<line x1="518.1" y1="223.6" x2="597.6" y2="223.6" stroke="#8c8c8c" stroke-width="0.9"/>
<line x1="518.1" y1="220.2" x2="597.6" y2="220.2" stroke="#8c8c8c" stroke-width="0.9"/>
<line x1="518.1" y1="217.2" x2="597.6" y2="217.2" stroke="#8c8c8c" stroke-width="0.9"/>
<line x1="518.1" y1="197.2" x2="597.6" y2="197.2" stroke="#8c8c8c" stroke-width="0.9"/>
<line x1="518.1" y1="185.5" x2="597.6" y2="185.5" stroke="#8c8c8c" stroke-width="0.9"/>
<line x1="518.1" y1="177.3" x2="597.6" y2="177.3" stroke="#8c8c8c" stroke-width="0.9"/>
<line x1="518.1" y1="170.8" x2="597.6" y2="170.8" stroke="#8c8c8c" stroke-width="0.9"/>
<line x1="518.1" y1="165.6" x2="597.6" y2="165.6" stroke="#8c8c8c" stroke-width="0.9"/>
<line x1="518.1" y1="161.2" x2="597.6" y2="161.2" stroke="#8c8c8c" stroke-width="0.9"/>
<line x1="518.1" y1="157.3" x2="597.6" y2="157.3" stroke="#8c8c8c" stroke-width="0.9"/>
<line x1="518.1" y1="153.9" x2="597.6" y2="153.9" stroke="#8c8c8c" stroke-width="0.9"/>
<line x1="518.1" y1="150.9" x2="597.6" y2="150.9" stroke="#8c8c8c" stroke-width="0.9"/>
<line x1="518.1" y1="130.9" x2="597.6" y2="130.9" stroke="#9a9a9a" stroke-width="1.1"/>
<line x1="597.6" y1="130.9" x2="831.5" y2="130.9" stroke="#4a4a4a" stroke-width="1.2"/>
<line x1="827.1" y1="130.9" x2="827.1" y2="329.6" stroke="#999" stroke-width="1.2"/>
<line x1="827.1" y1="318.0" x2="832.0" y2="318.0" stroke="#777" stroke-width="1"/>
<line x1="827.1" y1="309.8" x2="832.0" y2="309.8" stroke="#777" stroke-width="1"/>
<line x1="827.1" y1="303.3" x2="832.0" y2="303.3" stroke="#777" stroke-width="1"/>
<line x1="827.1" y1="298.1" x2="832.0" y2="298.1" stroke="#777" stroke-width="1"/>
<line x1="827.1" y1="293.7" x2="832.0" y2="293.7" stroke="#777" stroke-width="1"/>
<line x1="827.1" y1="289.8" x2="832.0" y2="289.8" stroke="#777" stroke-width="1"/>
<line x1="827.1" y1="286.4" x2="832.0" y2="286.4" stroke="#777" stroke-width="1"/>
<line x1="827.1" y1="283.4" x2="832.0" y2="283.4" stroke="#777" stroke-width="1"/>
<line x1="827.1" y1="263.5" x2="832.0" y2="263.5" stroke="#777" stroke-width="1"/>
<line x1="827.1" y1="251.8" x2="832.0" y2="251.8" stroke="#777" stroke-width="1"/>
<line x1="827.1" y1="243.5" x2="832.0" y2="243.5" stroke="#777" stroke-width="1"/>
<line x1="827.1" y1="237.1" x2="832.0" y2="237.1" stroke="#777" stroke-width="1"/>
<line x1="827.1" y1="231.8" x2="832.0" y2="231.8" stroke="#777" stroke-width="1"/>
<line x1="827.1" y1="227.4" x2="832.0" y2="227.4" stroke="#777" stroke-width="1"/>
<line x1="827.1" y1="223.6" x2="832.0" y2="223.6" stroke="#777" stroke-width="1"/>
<line x1="827.1" y1="220.2" x2="832.0" y2="220.2" stroke="#777" stroke-width="1"/>
<line x1="827.1" y1="217.2" x2="832.0" y2="217.2" stroke="#777" stroke-width="1"/>
<line x1="827.1" y1="197.2" x2="832.0" y2="197.2" stroke="#777" stroke-width="1"/>
<line x1="827.1" y1="185.5" x2="832.0" y2="185.5" stroke="#777" stroke-width="1"/>
<line x1="827.1" y1="177.3" x2="832.0" y2="177.3" stroke="#777" stroke-width="1"/>
<line x1="827.1" y1="170.8" x2="832.0" y2="170.8" stroke="#777" stroke-width="1"/>
<line x1="827.1" y1="165.6" x2="832.0" y2="165.6" stroke="#777" stroke-width="1"/>
<line x1="827.1" y1="161.2" x2="832.0" y2="161.2" stroke="#777" stroke-width="1"/>
<line x1="827.1" y1="157.3" x2="832.0" y2="157.3" stroke="#777" stroke-width="1"/>
<line x1="827.1" y1="153.9" x2="832.0" y2="153.9" stroke="#777" stroke-width="1"/>
<line x1="827.1" y1="150.9" x2="832.0" y2="150.9" stroke="#777" stroke-width="1"/>
<line x1="518.1" y1="11.2" x2="518.1" y2="330.3" stroke="#111" stroke-width="1.4"/>
<line x1="518.1" y1="17.9" x2="525.5" y2="17.9" stroke="#111" stroke-width="1.4"/>
<line x1="518.1" y1="84.2" x2="525.5" y2="84.2" stroke="#111" stroke-width="1.4"/>
<line x1="517.4" y1="329.6" x2="831.5" y2="329.6" stroke="#111" stroke-width="1.5"/>
<line x1="518.1" y1="329.6" x2="518.1" y2="322.4" stroke="#111" stroke-width="1.4"/>
<line x1="530.4" y1="329.6" x2="530.4" y2="325.6" stroke="#111" stroke-width="1"/>
<line x1="542.8" y1="329.6" x2="542.8" y2="325.6" stroke="#111" stroke-width="1"/>
<line x1="555.1" y1="329.6" x2="555.1" y2="325.6" stroke="#111" stroke-width="1"/>
<line x1="567.5" y1="329.6" x2="567.5" y2="325.6" stroke="#111" stroke-width="1"/>
<line x1="579.8" y1="329.6" x2="579.8" y2="322.4" stroke="#111" stroke-width="1.4"/>
<line x1="592.2" y1="329.6" x2="592.2" y2="325.6" stroke="#111" stroke-width="1"/>
<line x1="604.5" y1="329.6" x2="604.5" y2="325.6" stroke="#111" stroke-width="1"/>
<line x1="616.9" y1="329.6" x2="616.9" y2="325.6" stroke="#111" stroke-width="1"/>
<line x1="629.2" y1="329.6" x2="629.2" y2="325.6" stroke="#111" stroke-width="1"/>
<line x1="641.6" y1="329.6" x2="641.6" y2="322.4" stroke="#111" stroke-width="1.4"/>
<line x1="653.9" y1="329.6" x2="653.9" y2="325.6" stroke="#111" stroke-width="1"/>
<line x1="666.3" y1="329.6" x2="666.3" y2="325.6" stroke="#111" stroke-width="1"/>
<line x1="678.6" y1="329.6" x2="678.6" y2="325.6" stroke="#111" stroke-width="1"/>
<line x1="691.0" y1="329.6" x2="691.0" y2="325.6" stroke="#111" stroke-width="1"/>
<line x1="703.3" y1="329.6" x2="703.3" y2="322.4" stroke="#111" stroke-width="1.4"/>
<line x1="715.7" y1="329.6" x2="715.7" y2="325.6" stroke="#111" stroke-width="1"/>
<line x1="728.0" y1="329.6" x2="728.0" y2="325.6" stroke="#111" stroke-width="1"/>
<line x1="740.4" y1="329.6" x2="740.4" y2="325.6" stroke="#111" stroke-width="1"/>
<line x1="752.7" y1="329.6" x2="752.7" y2="325.6" stroke="#111" stroke-width="1"/>
<line x1="765.1" y1="329.6" x2="765.1" y2="322.4" stroke="#111" stroke-width="1.4"/>
<line x1="777.4" y1="329.6" x2="777.4" y2="325.6" stroke="#111" stroke-width="1"/>
<line x1="789.8" y1="329.6" x2="789.8" y2="325.6" stroke="#111" stroke-width="1"/>
<line x1="802.1" y1="329.6" x2="802.1" y2="325.6" stroke="#111" stroke-width="1"/>
<line x1="814.5" y1="329.6" x2="814.5" y2="325.6" stroke="#111" stroke-width="1"/>
<line x1="826.8" y1="329.6" x2="826.8" y2="322.4" stroke="#111" stroke-width="1.4"/>
<line x1="518.1" y1="283.4" x2="526.1" y2="283.4" stroke="#111" stroke-width="1.4"/>
<line x1="518.1" y1="217.2" x2="526.1" y2="217.2" stroke="#111" stroke-width="1.4"/>
<line x1="518.1" y1="150.9" x2="526.1" y2="150.9" stroke="#111" stroke-width="1.4"/>
<text x="512.8" y="287.5" text-anchor="end" style="font-size:11.5px;font-family:'Liberation Sans',Arial,sans-serif" fill="#222">100</text>
<text x="512.8" y="221.2" text-anchor="end" style="font-size:11.5px;font-family:'Liberation Sans',Arial,sans-serif" fill="#222">1000</text>
<text x="512.8" y="155.0" text-anchor="end" style="font-size:11.5px;font-family:'Liberation Sans',Arial,sans-serif" fill="#222">10000</text>
<text x="518.1" y="342.2" text-anchor="middle" style="font-size:11.5px;font-family:'Liberation Sans',Arial,sans-serif" fill="#222">0</text>
<text x="579.8" y="342.2" text-anchor="middle" style="font-size:11.5px;font-family:'Liberation Sans',Arial,sans-serif" fill="#222">2</text>
<text x="641.6" y="342.2" text-anchor="middle" style="font-size:11.5px;font-family:'Liberation Sans',Arial,sans-serif" fill="#222">4</text>
<text x="703.3" y="342.2" text-anchor="middle" style="font-size:11.5px;font-family:'Liberation Sans',Arial,sans-serif" fill="#222">6</text>
<text x="765.1" y="342.2" text-anchor="middle" style="font-size:11.5px;font-family:'Liberation Sans',Arial,sans-serif" fill="#222">8</text>
<text x="826.8" y="342.2" text-anchor="middle" style="font-size:11.5px;font-family:'Liberation Sans',Arial,sans-serif" fill="#222">10</text>
<text x="674.3" y="354.7" text-anchor="middle" style="font-size:13.5px;font-weight:bold;font-family:'Liberation Sans',Arial,sans-serif" fill="#111">Z [m]</text>
<text transform="translate(480.6,227.6) rotate(-90)" text-anchor="middle" style="font-size:13.5px;font-weight:bold;font-family:'Liberation Sans',Arial,sans-serif" fill="#111">f [Hz]</text>
<rect x="845.2" y="325.30" width="16.3" height="3.70" fill="#2a62a8"/>
<rect x="845.2" y="318.64" width="16.3" height="6.66" fill="#306fb2"/>
<rect x="845.2" y="311.97" width="16.3" height="6.67" fill="#3a7fbb"/>
<rect x="845.2" y="305.31" width="16.3" height="6.67" fill="#4a90c5"/>
<rect x="845.2" y="298.64" width="16.3" height="6.66" fill="#5d9fcd"/>
<rect x="845.2" y="291.98" width="16.3" height="6.67" fill="#76afd6"/>
<rect x="845.2" y="285.31" width="16.3" height="6.67" fill="#8cbddd"/>
<rect x="845.2" y="278.65" width="16.3" height="6.66" fill="#a6cbe4"/>
<rect x="845.2" y="271.98" width="16.3" height="6.67" fill="#bcd8eb"/>
<rect x="845.2" y="265.32" width="16.3" height="6.66" fill="#d0e3f0"/>
<rect x="845.2" y="258.65" width="16.3" height="6.67" fill="#dde9f3"/>
<rect x="845.2" y="251.99" width="16.3" height="6.67" fill="#eaf0f6"/>
<rect x="845.2" y="245.32" width="16.3" height="6.66" fill="#f4f5f7"/>
<rect x="845.2" y="238.66" width="16.3" height="6.66" fill="#faf0ea"/>
<rect x="845.2" y="231.99" width="16.3" height="6.67" fill="#fce5d8"/>
<rect x="845.2" y="225.33" width="16.3" height="6.66" fill="#fbd6c3"/>
<rect x="845.2" y="218.66" width="16.3" height="6.67" fill="#f8c3a8"/>
<rect x="845.2" y="212.00" width="16.3" height="6.66" fill="#f5ab88"/>
<rect x="845.2" y="205.33" width="16.3" height="6.66" fill="#f29670"/>
<rect x="845.2" y="198.67" width="16.3" height="6.67" fill="#ec8260"/>
<rect x="845.2" y="192.00" width="16.3" height="6.66" fill="#e46c52"/>
<rect x="845.2" y="185.34" width="16.3" height="6.66" fill="#dc5a48"/>
<rect x="845.2" y="178.67" width="16.3" height="6.67" fill="#d4473f"/>
<rect x="845.2" y="172.01" width="16.3" height="6.66" fill="#cb3038"/>
<rect x="845.2" y="165.34" width="16.3" height="6.66" fill="#c4202f"/>
<rect x="845.2" y="162.01" width="16.3" height="3.33" fill="#c4202f"/>
<line x1="845.2" y1="325.30" x2="861.5" y2="325.30" stroke="#000" stroke-opacity="0.22" stroke-width="0.8"/>
<line x1="845.2" y1="318.64" x2="861.5" y2="318.64" stroke="#000" stroke-opacity="0.05" stroke-width="0.8"/>
<line x1="845.2" y1="311.97" x2="861.5" y2="311.97" stroke="#000" stroke-opacity="0.22" stroke-width="0.8"/>
<line x1="845.2" y1="305.31" x2="861.5" y2="305.31" stroke="#000" stroke-opacity="0.05" stroke-width="0.8"/>
<line x1="845.2" y1="298.64" x2="861.5" y2="298.64" stroke="#000" stroke-opacity="0.22" stroke-width="0.8"/>
<line x1="845.2" y1="291.98" x2="861.5" y2="291.98" stroke="#000" stroke-opacity="0.05" stroke-width="0.8"/>
<line x1="845.2" y1="285.31" x2="861.5" y2="285.31" stroke="#000" stroke-opacity="0.22" stroke-width="0.8"/>
<line x1="845.2" y1="278.65" x2="861.5" y2="278.65" stroke="#000" stroke-opacity="0.05" stroke-width="0.8"/>
<line x1="845.2" y1="271.98" x2="861.5" y2="271.98" stroke="#000" stroke-opacity="0.22" stroke-width="0.8"/>
<line x1="845.2" y1="265.32" x2="861.5" y2="265.32" stroke="#000" stroke-opacity="0.05" stroke-width="0.8"/>
<line x1="845.2" y1="258.65" x2="861.5" y2="258.65" stroke="#000" stroke-opacity="0.22" stroke-width="0.8"/>
<line x1="845.2" y1="251.99" x2="861.5" y2="251.99" stroke="#000" stroke-opacity="0.05" stroke-width="0.8"/>
<line x1="845.2" y1="245.32" x2="861.5" y2="245.32" stroke="#000" stroke-opacity="0.22" stroke-width="0.8"/>
<line x1="845.2" y1="238.66" x2="861.5" y2="238.66" stroke="#000" stroke-opacity="0.05" stroke-width="0.8"/>
<line x1="845.2" y1="231.99" x2="861.5" y2="231.99" stroke="#000" stroke-opacity="0.22" stroke-width="0.8"/>
<line x1="845.2" y1="225.33" x2="861.5" y2="225.33" stroke="#000" stroke-opacity="0.05" stroke-width="0.8"/>
<line x1="845.2" y1="218.66" x2="861.5" y2="218.66" stroke="#000" stroke-opacity="0.22" stroke-width="0.8"/>
<line x1="845.2" y1="212.00" x2="861.5" y2="212.00" stroke="#000" stroke-opacity="0.05" stroke-width="0.8"/>
<line x1="845.2" y1="205.33" x2="861.5" y2="205.33" stroke="#000" stroke-opacity="0.22" stroke-width="0.8"/>
<line x1="845.2" y1="198.67" x2="861.5" y2="198.67" stroke="#000" stroke-opacity="0.05" stroke-width="0.8"/>
<line x1="845.2" y1="192.00" x2="861.5" y2="192.00" stroke="#000" stroke-opacity="0.22" stroke-width="0.8"/>
<line x1="845.2" y1="185.34" x2="861.5" y2="185.34" stroke="#000" stroke-opacity="0.05" stroke-width="0.8"/>
<line x1="845.2" y1="178.67" x2="861.5" y2="178.67" stroke="#000" stroke-opacity="0.22" stroke-width="0.8"/>
<line x1="845.2" y1="172.01" x2="861.5" y2="172.01" stroke="#000" stroke-opacity="0.05" stroke-width="0.8"/>
<line x1="845.2" y1="165.34" x2="861.5" y2="165.34" stroke="#000" stroke-opacity="0.22" stroke-width="0.8"/>
<rect x="845.2" y="162.01" width="16.3" height="166.99" fill="none" stroke="#999" stroke-opacity="0.5" stroke-width="0.6"/>
<text x="869.8" y="331.4" style="font-size:11.5px;font-family:'Liberation Sans',Arial,sans-serif" fill="#222">0</text>
<text x="869.8" y="318.1" style="font-size:11.5px;font-family:'Liberation Sans',Arial,sans-serif" fill="#222">10</text>
<text x="869.8" y="304.7" style="font-size:11.5px;font-family:'Liberation Sans',Arial,sans-serif" fill="#222">20</text>
<text x="869.8" y="291.4" style="font-size:11.5px;font-family:'Liberation Sans',Arial,sans-serif" fill="#222">30</text>
<text x="869.8" y="278.1" style="font-size:11.5px;font-family:'Liberation Sans',Arial,sans-serif" fill="#222">40</text>
<text x="869.8" y="264.8" style="font-size:11.5px;font-family:'Liberation Sans',Arial,sans-serif" fill="#222">50</text>
<text x="869.8" y="251.4" style="font-size:11.5px;font-family:'Liberation Sans',Arial,sans-serif" fill="#222">60</text>
<text x="869.8" y="238.1" style="font-size:11.5px;font-family:'Liberation Sans',Arial,sans-serif" fill="#222">70</text>
<text x="869.8" y="224.8" style="font-size:11.5px;font-family:'Liberation Sans',Arial,sans-serif" fill="#222">80</text>
<text x="869.8" y="211.4" style="font-size:11.5px;font-family:'Liberation Sans',Arial,sans-serif" fill="#222">90</text>
<text x="869.8" y="198.1" style="font-size:11.5px;font-family:'Liberation Sans',Arial,sans-serif" fill="#222">100</text>
<text x="869.8" y="184.8" style="font-size:11.5px;font-family:'Liberation Sans',Arial,sans-serif" fill="#222">110</text>
<text x="869.8" y="171.4" style="font-size:11.5px;font-family:'Liberation Sans',Arial,sans-serif" fill="#222">120</text>
<text x="846.0" y="141.6" style="font-size:13.3px;font-family:'Liberation Sans',Arial,sans-serif" fill="#222">PSD</text>
<text x="845.6" y="154.8" style="font-size:13.3px;font-family:'Liberation Sans',Arial,sans-serif" fill="#222">[dB/Hz]</text>
</g>
<g>
<g>
<rect x="133.8" y="523.4" width="251.0" height="198.7" fill="#306fb2"/>
<path d="M176.8 523.4l17.8 0 3 50.9 .2 1.5 1 .5 3.4-2 4.6-4.1 8-2.6 1.4-16.2 .7-2 3-4 .6-22 164.3 0 0 198.7-251 0 0-151.4 3 1.3 4 4 3 1.2 5 3.2 17-3.1 1.8-12 1.2-2.6 3-3.3 1-13.5 3-11.2 .5-11.3z" fill="#3a7fbb"/>
<path d="M177.8 523.4l15.3 0 .7 31.2 1.9 9.7 1.3 11 .8 3 1 .3 6.2-2.3 9.8-5 2.5-17.9 .8-2 3.2-4 .6-2 1.6-22 96.2 0 .1 3.7 1 3.1 50 0 .4-6.8 7.2 0 .4 6.8 6 0 0 191.9-251 0 0-149 5.9 4.2 9.1 4.9 17-3.1 1.5-2.8 1.8-9 2.7-4 1.9-10.9 2.1-6.7 1-6.5 .4-15.8z" fill="#4a90c5"/>
<path d="M178.8 523.4l13.6 0 .8 33.9 3.3 19 1.3 4 1 .3 10-3.3 6-2.8 3.2-19.1 1.2-3 3.1-3 1.5-3 2.7-23 8.9 0 2.4 31.5 .8-31.5 52.4 0 .8 7.6 1 1.3 3.6-4.9 1.2-4 21.4 0 .8 14.2 1 1.8 50 0 1.1-16 5.8 0 1.1 16 6 0 0 182.7-251 0 0-146.5 7.7 4.7 7.3 3.5 17-3.1 2.2-3.4 1.8-7 2.7-6 2.1-9.9 1.9-6 .9-8 .4-17z" fill="#5d9fcd"/>
<path d="M178.8 523.4l12.9 0 1.1 37.4 3.2 16.5 1.8 4.9 1 .2 16-5 1.3-5.1 2.3-15 1.4-3.2 3.7-2.7 1.8-3 2.5-12.6 2.6-6.4 1-6 .7 0 3.5 31 2.2 5.2 1-8 .4-28.2 48 0 2.1 13 2.5 9.2 1 .5 10-9.4 1.4-13.3 14.2 0 1.1 19 .3 2.3 1 1.3 50 0 1.7-22.6 4.6 0 1.7 22.6 6 0 0 176.1-251 0 0-144.4 6.1 3.6 8.9 3.9 17.1-2.9 3.5-6 4.1-12 3.4-12.9 .9-8 .7-20z" fill="#76afd6"/>
<path d="M179.8 523.4l11.3 0 .7 31 .8 9.9 3.3 15 1.7 4 1.2 .4 7-1.4 9-2.7 1.2-3.3 2.2-15 1.2-4 .4-.8 3-1.1 2-1.3 3-5.2 4-4.7 2.6 13.1 1.4 3.1 2 2.5 1-3.8 .4-4.7 .6-31 43.5 0 1.5 9 3 11 3.9 10 1.1 .3 4-3.9 6-4.2 2.2-10.2 1-12 11.7 0 1.4 22 .7 4.9 1 .8 50 0 1.3-9.7 1.1-18 3.3 0 1 18 1.3 9.7 6 0 0 171-251 0 0-142.3 5 2.8 10 3.8 16-2.2 1-.3 1.6-1.6 2.3-4 2.9-8 4.9-17.9 1-9 .7-20z" fill="#8cbddd"/>
<path d="M180.8 523.4l9.7 0 .7 32 1.2 12.9 3.7 14 1.7 2.5 1 .1 9-1.4 7-1.9 1.7-4.3 2.2-15 1.1-3.5 6-.6 6-1.7 2.4 5.8 1.6 1.7 2 1 1-2.2 .8-7.4 .7-32 39.2 0 1.4 8 2.8 10 4.3 11 3.8 6.9 1-.1 6-5.7 4-3 1.2-2.1 1.3-4 1-6 1.4-15 9.4 0 1.4 24 1.3 7.6 1 .6 50 0 1.7-10.2 1.3-22 2.1 0 1.2 22 1.7 10.2 6 0 0 166.5-251 0 0-140 10 4.2 5 1.3 16-2 1.1-.3 2.3-2 2.2-4 2.8-7 4.9-17.9 1-10 1.1-21z" fill="#a6cbe4"/>
<path d="M182.8 523.4l7.1 0 .7 32 1.2 13.9 3.4 13 1.8 3 1.8 .9 9-1 7-1.5 2.2-5.4 2.8-17.1 9 1.5 3 1.2 2 1.6 4 1.3 1.5-3.5 .7-6.9 .9-33 7.7 0 .2 3.8 1 2.3 27 .2 3.1 10.7 5 12 3.6 6.9 3.3 3.6 2-.8 9-7.3 2.5-4.4 1.5-4 1-5 1.7-18 6.9 0 1.1 23 2.3 12.8 1 .5 50 0 2-9.6 1.7-26.7 .7 0 1.3 23 1.6 10.9 .7 2.4 6 0 0 162.4-251 0 0-137.5 9 3.1 6 1.2 17-1.9 3.3-2.7 4.7-10 4.6-16 2.9-19.9z" fill="#bcd8eb"/>
<path d="M241.8 523.4l5.7 0 1.2 16 .1 .9 1 1 27 .1 8.4 17.9 2.6 3.4 4 3.2 4-1.9 7-5.5 3.7-5.1 2.5-8 3.1-22 3.7 0 1.4 29 1.6 8.1 1 2.6 1 .3 50 0 1.5-4.1 1-5.9 1.5-22.7 1.4 20.7 1.6 9.7 1 2.3 6 0 0 158.7-251 0 0-134.8 15 3.3 17-1.7 3.7-2.6 1.5-2 2.8-5.9 3-9.7 2.3-5.4 2.5-8.9 2.2-14.6 1-2.3 4 5.3 1 5.1 1.5 23.4 .9 4 3.5 10 2.1 2.5 1 .1 16-1.6 2.7-7 2.3-14.7 7 1.1 5 2.5 3 .6 3 .3 1-1.8 1.1-4 .5-6z" fill="#d0e3f0"/>
<path d="M242.8 523.4l3.5 0 1 16 1.5 8.5 1 .6 27 .1 7 13.7 3 3.4 5 3.5 2-.7 6-3.7 5-4.2 1.9-2.3 2.4-4.9 5.7-18.3 2.3 24.2 1.5 5 1.2 2 1 .2 50 0 1.4-2.2 1.1-4 1.5-15 1.4 14 1.6 5.8 1 1.4 6 0 0 155.6-251 0 0-131.8 15 2.3 16-1.1 4-1.7 2.7-2.5 1.8-3 3.5-9.4 2.4-3.6 4.6-11.5 1-1 4 1.3 1 2.4 1.7 14.8 2.8 8 2.5 3.9 2 .9 16-1 1.6-2.8 1.4-4.5 2-12.8 7 .7 5 2.3 3 .3 3-.3 1-2 1.5-5.7 .8-7.9z" fill="#dde9f3"/>
<path d="M243.8 523.4l1.4 0 1.1 20 2.5 11.7 1 .4 27 .2 3.3 6.6 2.7 4 4 3.7 5 2.4 5-1.9 9-5.7 3-3.2 2-4.4 4-2.6 2 10.4 1 2.3 2 2.5 51 .2 2.6-3.7 1.4-7.3 1.2 6.3 1.8 3.7 1 1 6 0 0 152.1-251 0 0-128.6 15 1.6 17-.9 4-1.3 3-2.5 4-8.5 4-3.6 3-5.5 1-.9 4 .1 1 1.7 .9 6.6 1.6 5 2.5 5 2 1.8 2 .6 16-.4 1.5-2 1.5-3.9 2-11.8 7-.5 5 2.5 6 .6 2.5-8.9 1-6 1.4-15.9z" fill="#eaf0f6"/>
<path d="M244.8 543.6l1.3 10.8 2.7 8.6 1 .4 27 .2 2.3 4.7 2.7 3.4 5 3.2 5 2.2 6-2.4 5-3.4 8-2 4 .5 3 4.2 2 1.8 1 .1 50 0 2.1-1.6 1.9-2.9 2 3 2 1.5 6 0 0 146.2-251 0 0-124.4 15 1 17-.4 6-.7 2-1.4 3-4.5 3-2.5 5-1.5 4 0 1 .5 1 3.1 2 3.1 4 2.4 18 .4 3-4.9 2-9.1 8-1.5 4 .7 6 2.5 1-1.5 1.1-4.1-.1-6 1.8-6 1.6-10.9 .6-9.3z" fill="#f4f5f7"/>
<path d="M244.8 560.5l2.1 6.8 5.9 4 1 2-.6 3-1.4 1.4-3.1 1.6-.7 2 .8 11.5 1 .5 13-5.8 14-3.4 6 3.2 9 2.4 5-1 6-2.1 12 0 5-1.1 51-.1 4 5.9 4-5.9 6 0 0 136.7-251 0 0-116.7 11 1.1 27-.2 5 1.3 3-.3 6 2.1 4 0 8-2 17-.3 3-1.8 2-2.7 8-.7 10 1.4 2.3-3 1.4-6 1.1-13-1.9-8 2.5-6z" fill="#faf0ea"/>
<path d="M244.8 568.9l4.6 2.4 1.3 2-.9 2.1-2 1.4-3 1.1-2-1.6-1.1-3 1.1-2.6zM269.8 607.2l11 .8 12 2.2 17 .9 1 0 4-2.5 1 .6 3 7.5 19 1.1 31 .5 6-.7 4 2.3 6 0 0 102.2-251 0 0-88.4 4-.3 6 6.7 8-.2 8 4.8 12 0 4-4.6 10-7 5 .3 4 3.4 11 3.5 24 .3 1-.3 10-8.2 5-6.6 2.5-4.2 7.5-8.3 7-3.8z" fill="#fce5d8"/>
<path d="M243.8 571.2l1-.5 2.2 .6 1.3 1 .2 2-2.7 1.7-2-.4-1-2.3zM268.8 612.1l2-.6 9.6 1.8 11.4 4.2 19 3.7 4-1.7 4 5.1 20-1.8 16 2.3 14 3.7 6-.3 4 2.4 6 0 0 91.2-251 0 0-64.6 4 .8 6 3.1 8 2.7 4.4 5.1 3.6 7.8 11 .7 1-.3 1.4-10.2 2.4-7 2.3-4 7.9-9.6 4 0 1 .6 4 5.2 6.1 3.8 4.9 4.1 25-1.7 10-4.9 5-11.6 1.4-7.9 2-5 5.3-5 5.3-6.8 5.9-4.1z" fill="#fbd6c3"/>
<path d="M244.8 572.3l1.9 1-.7 1-1.4 0-.4-1zM269.8 616.9l1-.5 21 7.5 18 5 5-.1 4 2.5 20-2.6 30 8.4 6 .8 4 1.4 6 0 0 82.8-251 0 0-55.7 4 3.6 10 6.4 4 4 3.6 9.7 4.4 20.3 6-4.3 6-3.3 4.5-30.6 2.5-5.8 7-10.1 4 .2 1 .6 4 5.7 6 5.6 2.2 4.8 2.8 12.3 24-8.4 5.8-5.9 5.2-3.6 1-2 4-10.9 2.7-16.5 2.3-6.1 2-2.3 7-5.8z" fill="#f8c3a8"/>
<path d="M270.8 622.2l11 4 11 4.7 18 4.9 7 2.7 21-2.8 31 8.4 5 2 10-.1 0 76.1-216.1 0 3.1-1.7 1.5-5.3 2.2-13 2.2-18.9 1.9-9 1.3-3 4.9-6.6 4-.3 1 .6 6.1 8.3 1.8 5 4.1 15.9 3 7.7 24-6.2 1-.6 10-12.7 1-2 4-12.2 3-22.2 1.5-6.7 1.5-4.2 2-2.7zM134.4 678.2l3.4 2.5 6 3 4.7 6.4 3.3 7.1 2.3 6.9 4.2 18-24.5 0 0-44.6z" fill="#f5ab88"/>
<path d="M269.8 628l1-.4 6.9 2.6 15.1 7.4 18 4.9 5 3.7 23-3 30 7.7 6 3.3 4-1.1 6 0 0 69-207.8 0 4.4-42.9 1.4-3.6 2-2.7 1-1.1 4-1.4 1 .5 1.6 2.3 1.7 4 3.1 18.9 2.7 11 2.5 6 3 4 .4 .4 25-6.5 10-12.6 2.3-4.3 2.1-5.9 .6-2.4 3.8-34.6 1.3-7 1.9-6.4 1-1.8 6-2.1zM136.8 692.7l1-.5 6 3.1 5 7.6 3 6.6 2.6 12.6-20.6 0 0-26.1z" fill="#f29670"/>
<path d="M270.8 632.9l11.4 6.3 9.6 4.7 19 5.3 4 5 1 .4 3-2.1 20-2.7 30 8.7 6 3.6 4-1.5 6 0 0 61.5-146.2 0 2.2-2.3 5-9.1 4.2-49.5 1.3-11 1.7-7 .8-2.1 6-1.2zM189.8 675.2l2.1 2 1.4 4 .9 20.9-.1 20-12.2 0-.1-27 .8-13.9 .6-2 1.6-2.1 1-.8zM142.8 703.9l1-.3 1 1 3 5.1 1.4 4.4 1.4 8-13.8 0 2-13.7 1.1-2.3z" fill="#ec8260"/>
<path d="M269.8 640.9l1-.3 12 4.8 10 5.5 18 4.9 4 7.2 1 .5 3-3.5 20-2.7 30 8.1 6 4.9 4-2.6 6 0 0 54.4-137.7 0 4.2-56.9 2.2-17 .3-1 6 .3 3-2.8zM188.8 678.1l1-.2 1 .6 1.2 3.7 .7 17.9-.4 15-1.1 7-6.4 0-1.4-16 .1-19.9 .6-5 .7-1.7 1-1.1zM143.8 710.6l1.3 2.5 1.6 9-5.4 0 .9-7z" fill="#e46c52"/>
<path d="M268.8 646.2l2-.8 4.8 1.8 16.2 9.9 19 5.6 2.1 4.5 1.9 6.4 1-.2 1.4-4.2 1.6-2.5 20-2.9 8.5 2.4 21.5 7.4 6 7.3 4-4.3 6 0 0 45.5-135.3 0 2.9-49.9 1.4-14.5 6-.5 4.4-7zM185.8 680.9l4-.1 1 4.7 .4 19.6-.4 5.9-1 3.7-4-2.3-.3-2.3-1-17 .3-6.4z" fill="#dc5a48"/>
<path d="M269.8 650.9l1-.6 1.7 .9 10.3 7.8 9 5.2 19 6.5 4 15.2 1-1.1 2-9.6 1-2 16 .9 4 .6 7 3.1 23 8 6 9.2 4-1.5 6 0 0 28.6-132.9 0 1.9-39.1 .6-2.8 2.9-8 4-6 5.9-12z" fill="#d4473f"/>
<path d="M270.8 660.4l8 8.4 13 10.7 19 5.9 4 17.4 1-2.2 1.4-11.5 1.6-7.1 17.7 5.2 5 1.9 8.3 4.5 9 6.1 4.8 5.4 6.2 9.1 2 1.9 3 1.7 1 4.3-120.3 0 1.7-17 2.6-15.1z" fill="#cb3038"/>
<path d="M318.8 694.3l9.2 4.8 5.7 4 3.1 3 1 2 .4 4-.9 10-20.3 0 0-12zM270.8 702l21 1.2 12 4.5 6 1.4 1 .7 .5 3.3 0 9-46.1 0 1.6-12z" fill="#c4202f"/>
</g>
<path d="M76.0,405.4 A50,47 0 0 1 121.0,432.6 L177.8,442.8 L233.5,430.7 Q236.5,428.7 240.0,428.5 L375.0,431.4 L375.5,433.5 L316.5,437.1 L316.0,440.8 L248.0,443.1 L239.0,447.5 L181.4,476.8 L177.8,472.3 L133.5,498.5 L130.0,493.8 L126.1,496.4 A50,22.4 0 0 1 76.0,518.9 Z" fill="#535353"/>
<path d="M234.4,436.1 L246.7,433.3 L247.8,442.2 L238.9,446.7 Z" fill="#fff"/>
<path d="M310.0,436.7 L316.2,436.7 L316.2,440.7 L310.0,440.7 Z" fill="#fff"/>
<path d="M177.0,465.0 L181.2,477.0" stroke="#fff" stroke-width="1.2"/>
<line x1="133.7" y1="499.7" x2="133.7" y2="523.4" stroke="#8a8a8a" stroke-width="1"/>
<line x1="177.8" y1="473.4" x2="177.8" y2="523.4" stroke="#8a8a8a" stroke-width="1"/>
<line x1="239.3" y1="448.1" x2="239.3" y2="523.4" stroke="#8a8a8a" stroke-width="1"/>
<line x1="248.0" y1="443.6" x2="248.0" y2="523.4" stroke="#8a8a8a" stroke-width="1"/>
<line x1="316.3" y1="437.7" x2="316.3" y2="523.4" stroke="#8a8a8a" stroke-width="1"/>
<line x1="375.5" y1="434.0" x2="375.5" y2="523.4" stroke="#8a8a8a" stroke-width="1"/>
<line x1="384.8" y1="434.0" x2="384.8" y2="523.4" stroke="#8a8a8a" stroke-width="1"/>
<polyline points="133.7,499.7 177.8,473.4 181.4,477.8 239.3,448.1 248.0,443.6 310.0,441.3 316.0,441.3 316.3,437.7 375.5,434.0 384.8,434.0" fill="none" stroke="#1d1a70" stroke-width="2.2" stroke-linejoin="round"/>
<rect x="131.0" y="497.0" width="5.4" height="5.4" rx="0.8" fill="#b81a2a" stroke="#7a0f1c" stroke-width="0.7"/>
<rect x="175.1" y="470.7" width="5.4" height="5.4" rx="0.8" fill="#b81a2a" stroke="#7a0f1c" stroke-width="0.7"/>
<rect x="236.6" y="445.4" width="5.4" height="5.4" rx="0.8" fill="#b81a2a" stroke="#7a0f1c" stroke-width="0.7"/>
<rect x="245.3" y="440.9" width="5.4" height="5.4" rx="0.8" fill="#b81a2a" stroke="#7a0f1c" stroke-width="0.7"/>
<rect x="313.6" y="435.0" width="5.4" height="5.4" rx="0.8" fill="#b81a2a" stroke="#7a0f1c" stroke-width="0.7"/>
<rect x="372.8" y="431.3" width="5.4" height="5.4" rx="0.8" fill="#b81a2a" stroke="#7a0f1c" stroke-width="0.7"/>
<rect x="382.1" y="431.3" width="5.4" height="5.4" rx="0.8" fill="#b81a2a" stroke="#7a0f1c" stroke-width="0.7"/>
<line x1="76.1" y1="710.5" x2="133.8" y2="710.5" stroke="#8c8c8c" stroke-width="0.9"/>
<line x1="76.1" y1="702.3" x2="133.8" y2="702.3" stroke="#8c8c8c" stroke-width="0.9"/>
<line x1="76.1" y1="695.8" x2="133.8" y2="695.8" stroke="#8c8c8c" stroke-width="0.9"/>
<line x1="76.1" y1="690.6" x2="133.8" y2="690.6" stroke="#8c8c8c" stroke-width="0.9"/>
<line x1="76.1" y1="686.2" x2="133.8" y2="686.2" stroke="#8c8c8c" stroke-width="0.9"/>
<line x1="76.1" y1="682.3" x2="133.8" y2="682.3" stroke="#8c8c8c" stroke-width="0.9"/>
<line x1="76.1" y1="678.9" x2="133.8" y2="678.9" stroke="#8c8c8c" stroke-width="0.9"/>
<line x1="76.1" y1="675.9" x2="133.8" y2="675.9" stroke="#8c8c8c" stroke-width="0.9"/>
<line x1="76.1" y1="656.0" x2="133.8" y2="656.0" stroke="#8c8c8c" stroke-width="0.9"/>
<line x1="76.1" y1="644.3" x2="133.8" y2="644.3" stroke="#8c8c8c" stroke-width="0.9"/>
<line x1="76.1" y1="636.0" x2="133.8" y2="636.0" stroke="#8c8c8c" stroke-width="0.9"/>
<line x1="76.1" y1="629.6" x2="133.8" y2="629.6" stroke="#8c8c8c" stroke-width="0.9"/>
<line x1="76.1" y1="624.3" x2="133.8" y2="624.3" stroke="#8c8c8c" stroke-width="0.9"/>
<line x1="76.1" y1="619.9" x2="133.8" y2="619.9" stroke="#8c8c8c" stroke-width="0.9"/>
<line x1="76.1" y1="616.1" x2="133.8" y2="616.1" stroke="#8c8c8c" stroke-width="0.9"/>
<line x1="76.1" y1="612.7" x2="133.8" y2="612.7" stroke="#8c8c8c" stroke-width="0.9"/>
<line x1="76.1" y1="609.6" x2="133.8" y2="609.6" stroke="#8c8c8c" stroke-width="0.9"/>
<line x1="76.1" y1="589.7" x2="133.8" y2="589.7" stroke="#8c8c8c" stroke-width="0.9"/>
<line x1="76.1" y1="578.0" x2="133.8" y2="578.0" stroke="#8c8c8c" stroke-width="0.9"/>
<line x1="76.1" y1="569.8" x2="133.8" y2="569.8" stroke="#8c8c8c" stroke-width="0.9"/>
<line x1="76.1" y1="563.3" x2="133.8" y2="563.3" stroke="#8c8c8c" stroke-width="0.9"/>
<line x1="76.1" y1="558.1" x2="133.8" y2="558.1" stroke="#8c8c8c" stroke-width="0.9"/>
<line x1="76.1" y1="553.7" x2="133.8" y2="553.7" stroke="#8c8c8c" stroke-width="0.9"/>
<line x1="76.1" y1="549.8" x2="133.8" y2="549.8" stroke="#8c8c8c" stroke-width="0.9"/>
<line x1="76.1" y1="546.4" x2="133.8" y2="546.4" stroke="#8c8c8c" stroke-width="0.9"/>
<line x1="76.1" y1="543.4" x2="133.8" y2="543.4" stroke="#8c8c8c" stroke-width="0.9"/>
<line x1="76.1" y1="523.4" x2="133.8" y2="523.4" stroke="#9a9a9a" stroke-width="1.1"/>
<line x1="133.8" y1="523.4" x2="389.5" y2="523.4" stroke="#4a4a4a" stroke-width="1.2"/>
<line x1="385.1" y1="523.4" x2="385.1" y2="722.1" stroke="#999" stroke-width="1.2"/>
<line x1="385.1" y1="710.5" x2="390.0" y2="710.5" stroke="#777" stroke-width="1"/>
<line x1="385.1" y1="702.3" x2="390.0" y2="702.3" stroke="#777" stroke-width="1"/>
<line x1="385.1" y1="695.8" x2="390.0" y2="695.8" stroke="#777" stroke-width="1"/>
<line x1="385.1" y1="690.6" x2="390.0" y2="690.6" stroke="#777" stroke-width="1"/>
<line x1="385.1" y1="686.2" x2="390.0" y2="686.2" stroke="#777" stroke-width="1"/>
<line x1="385.1" y1="682.3" x2="390.0" y2="682.3" stroke="#777" stroke-width="1"/>
<line x1="385.1" y1="678.9" x2="390.0" y2="678.9" stroke="#777" stroke-width="1"/>
<line x1="385.1" y1="675.9" x2="390.0" y2="675.9" stroke="#777" stroke-width="1"/>
<line x1="385.1" y1="656.0" x2="390.0" y2="656.0" stroke="#777" stroke-width="1"/>
<line x1="385.1" y1="644.3" x2="390.0" y2="644.3" stroke="#777" stroke-width="1"/>
<line x1="385.1" y1="636.0" x2="390.0" y2="636.0" stroke="#777" stroke-width="1"/>
<line x1="385.1" y1="629.6" x2="390.0" y2="629.6" stroke="#777" stroke-width="1"/>
<line x1="385.1" y1="624.3" x2="390.0" y2="624.3" stroke="#777" stroke-width="1"/>
<line x1="385.1" y1="619.9" x2="390.0" y2="619.9" stroke="#777" stroke-width="1"/>
<line x1="385.1" y1="616.1" x2="390.0" y2="616.1" stroke="#777" stroke-width="1"/>
<line x1="385.1" y1="612.7" x2="390.0" y2="612.7" stroke="#777" stroke-width="1"/>
<line x1="385.1" y1="609.6" x2="390.0" y2="609.6" stroke="#777" stroke-width="1"/>
<line x1="385.1" y1="589.7" x2="390.0" y2="589.7" stroke="#777" stroke-width="1"/>
<line x1="385.1" y1="578.0" x2="390.0" y2="578.0" stroke="#777" stroke-width="1"/>
<line x1="385.1" y1="569.8" x2="390.0" y2="569.8" stroke="#777" stroke-width="1"/>
<line x1="385.1" y1="563.3" x2="390.0" y2="563.3" stroke="#777" stroke-width="1"/>
<line x1="385.1" y1="558.1" x2="390.0" y2="558.1" stroke="#777" stroke-width="1"/>
<line x1="385.1" y1="553.7" x2="390.0" y2="553.7" stroke="#777" stroke-width="1"/>
<line x1="385.1" y1="549.8" x2="390.0" y2="549.8" stroke="#777" stroke-width="1"/>
<line x1="385.1" y1="546.4" x2="390.0" y2="546.4" stroke="#777" stroke-width="1"/>
<line x1="385.1" y1="543.4" x2="390.0" y2="543.4" stroke="#777" stroke-width="1"/>
<line x1="76.1" y1="403.7" x2="76.1" y2="722.8" stroke="#111" stroke-width="1.4"/>
<line x1="76.1" y1="410.4" x2="83.5" y2="410.4" stroke="#111" stroke-width="1.4"/>
<line x1="76.1" y1="476.7" x2="83.5" y2="476.7" stroke="#111" stroke-width="1.4"/>
<line x1="75.4" y1="722.1" x2="389.5" y2="722.1" stroke="#111" stroke-width="1.5"/>
<line x1="76.1" y1="722.1" x2="76.1" y2="714.9" stroke="#111" stroke-width="1.4"/>
<line x1="88.4" y1="722.1" x2="88.4" y2="718.1" stroke="#111" stroke-width="1"/>
<line x1="100.8" y1="722.1" x2="100.8" y2="718.1" stroke="#111" stroke-width="1"/>
<line x1="113.1" y1="722.1" x2="113.1" y2="718.1" stroke="#111" stroke-width="1"/>
<line x1="125.5" y1="722.1" x2="125.5" y2="718.1" stroke="#111" stroke-width="1"/>
<line x1="137.8" y1="722.1" x2="137.8" y2="714.9" stroke="#111" stroke-width="1.4"/>
<line x1="150.2" y1="722.1" x2="150.2" y2="718.1" stroke="#111" stroke-width="1"/>
<line x1="162.5" y1="722.1" x2="162.5" y2="718.1" stroke="#111" stroke-width="1"/>
<line x1="174.9" y1="722.1" x2="174.9" y2="718.1" stroke="#111" stroke-width="1"/>
<line x1="187.2" y1="722.1" x2="187.2" y2="718.1" stroke="#111" stroke-width="1"/>
<line x1="199.6" y1="722.1" x2="199.6" y2="714.9" stroke="#111" stroke-width="1.4"/>
<line x1="211.9" y1="722.1" x2="211.9" y2="718.1" stroke="#111" stroke-width="1"/>
<line x1="224.3" y1="722.1" x2="224.3" y2="718.1" stroke="#111" stroke-width="1"/>
<line x1="236.6" y1="722.1" x2="236.6" y2="718.1" stroke="#111" stroke-width="1"/>
<line x1="249.0" y1="722.1" x2="249.0" y2="718.1" stroke="#111" stroke-width="1"/>
<line x1="261.3" y1="722.1" x2="261.3" y2="714.9" stroke="#111" stroke-width="1.4"/>
<line x1="273.7" y1="722.1" x2="273.7" y2="718.1" stroke="#111" stroke-width="1"/>
<line x1="286.0" y1="722.1" x2="286.0" y2="718.1" stroke="#111" stroke-width="1"/>
<line x1="298.4" y1="722.1" x2="298.4" y2="718.1" stroke="#111" stroke-width="1"/>
<line x1="310.7" y1="722.1" x2="310.7" y2="718.1" stroke="#111" stroke-width="1"/>
<line x1="323.1" y1="722.1" x2="323.1" y2="714.9" stroke="#111" stroke-width="1.4"/>
<line x1="335.4" y1="722.1" x2="335.4" y2="718.1" stroke="#111" stroke-width="1"/>
<line x1="347.8" y1="722.1" x2="347.8" y2="718.1" stroke="#111" stroke-width="1"/>
<line x1="360.1" y1="722.1" x2="360.1" y2="718.1" stroke="#111" stroke-width="1"/>
<line x1="372.5" y1="722.1" x2="372.5" y2="718.1" stroke="#111" stroke-width="1"/>
<line x1="384.8" y1="722.1" x2="384.8" y2="714.9" stroke="#111" stroke-width="1.4"/>
<line x1="76.1" y1="675.9" x2="84.1" y2="675.9" stroke="#111" stroke-width="1.4"/>
<line x1="76.1" y1="609.6" x2="84.1" y2="609.6" stroke="#111" stroke-width="1.4"/>
<line x1="76.1" y1="543.4" x2="84.1" y2="543.4" stroke="#111" stroke-width="1.4"/>
<text x="70.8" y="680.0" text-anchor="end" style="font-size:11.5px;font-family:'Liberation Sans',Arial,sans-serif" fill="#222">100</text>
<text x="70.8" y="613.8" text-anchor="end" style="font-size:11.5px;font-family:'Liberation Sans',Arial,sans-serif" fill="#222">1000</text>
<text x="70.8" y="547.5" text-anchor="end" style="font-size:11.5px;font-family:'Liberation Sans',Arial,sans-serif" fill="#222">10000</text>
<text x="76.1" y="734.7" text-anchor="middle" style="font-size:11.5px;font-family:'Liberation Sans',Arial,sans-serif" fill="#222">0</text>
<text x="137.8" y="734.7" text-anchor="middle" style="font-size:11.5px;font-family:'Liberation Sans',Arial,sans-serif" fill="#222">2</text>
<text x="199.6" y="734.7" text-anchor="middle" style="font-size:11.5px;font-family:'Liberation Sans',Arial,sans-serif" fill="#222">4</text>
<text x="261.3" y="734.7" text-anchor="middle" style="font-size:11.5px;font-family:'Liberation Sans',Arial,sans-serif" fill="#222">6</text>
<text x="323.1" y="734.7" text-anchor="middle" style="font-size:11.5px;font-family:'Liberation Sans',Arial,sans-serif" fill="#222">8</text>
<text x="384.8" y="734.7" text-anchor="middle" style="font-size:11.5px;font-family:'Liberation Sans',Arial,sans-serif" fill="#222">10</text>
<text x="232.3" y="747.2" text-anchor="middle" style="font-size:13.5px;font-weight:bold;font-family:'Liberation Sans',Arial,sans-serif" fill="#111">Z [m]</text>
<text transform="translate(38.6,620.1) rotate(-90)" text-anchor="middle" style="font-size:13.5px;font-weight:bold;font-family:'Liberation Sans',Arial,sans-serif" fill="#111">f [Hz]</text>
<rect x="403.2" y="717.80" width="16.3" height="3.70" fill="#2a62a8"/>
<rect x="403.2" y="711.14" width="16.3" height="6.66" fill="#306fb2"/>
<rect x="403.2" y="704.47" width="16.3" height="6.67" fill="#3a7fbb"/>
<rect x="403.2" y="697.81" width="16.3" height="6.67" fill="#4a90c5"/>
<rect x="403.2" y="691.14" width="16.3" height="6.66" fill="#5d9fcd"/>
<rect x="403.2" y="684.48" width="16.3" height="6.67" fill="#76afd6"/>
<rect x="403.2" y="677.81" width="16.3" height="6.67" fill="#8cbddd"/>
<rect x="403.2" y="671.15" width="16.3" height="6.66" fill="#a6cbe4"/>
<rect x="403.2" y="664.48" width="16.3" height="6.67" fill="#bcd8eb"/>
<rect x="403.2" y="657.82" width="16.3" height="6.66" fill="#d0e3f0"/>
<rect x="403.2" y="651.15" width="16.3" height="6.67" fill="#dde9f3"/>
<rect x="403.2" y="644.49" width="16.3" height="6.67" fill="#eaf0f6"/>
<rect x="403.2" y="637.82" width="16.3" height="6.66" fill="#f4f5f7"/>
<rect x="403.2" y="631.16" width="16.3" height="6.66" fill="#faf0ea"/>
<rect x="403.2" y="624.49" width="16.3" height="6.67" fill="#fce5d8"/>
<rect x="403.2" y="617.83" width="16.3" height="6.66" fill="#fbd6c3"/>
<rect x="403.2" y="611.16" width="16.3" height="6.67" fill="#f8c3a8"/>
<rect x="403.2" y="604.50" width="16.3" height="6.66" fill="#f5ab88"/>
<rect x="403.2" y="597.83" width="16.3" height="6.66" fill="#f29670"/>
<rect x="403.2" y="591.17" width="16.3" height="6.67" fill="#ec8260"/>
<rect x="403.2" y="584.50" width="16.3" height="6.66" fill="#e46c52"/>
<rect x="403.2" y="577.84" width="16.3" height="6.66" fill="#dc5a48"/>
<rect x="403.2" y="571.17" width="16.3" height="6.67" fill="#d4473f"/>
<rect x="403.2" y="564.51" width="16.3" height="6.66" fill="#cb3038"/>
<rect x="403.2" y="557.84" width="16.3" height="6.66" fill="#c4202f"/>
<rect x="403.2" y="554.51" width="16.3" height="3.33" fill="#c4202f"/>
<line x1="403.2" y1="717.80" x2="419.5" y2="717.80" stroke="#000" stroke-opacity="0.22" stroke-width="0.8"/>
<line x1="403.2" y1="711.14" x2="419.5" y2="711.14" stroke="#000" stroke-opacity="0.05" stroke-width="0.8"/>
<line x1="403.2" y1="704.47" x2="419.5" y2="704.47" stroke="#000" stroke-opacity="0.22" stroke-width="0.8"/>
<line x1="403.2" y1="697.81" x2="419.5" y2="697.81" stroke="#000" stroke-opacity="0.05" stroke-width="0.8"/>
<line x1="403.2" y1="691.14" x2="419.5" y2="691.14" stroke="#000" stroke-opacity="0.22" stroke-width="0.8"/>
<line x1="403.2" y1="684.48" x2="419.5" y2="684.48" stroke="#000" stroke-opacity="0.05" stroke-width="0.8"/>
<line x1="403.2" y1="677.81" x2="419.5" y2="677.81" stroke="#000" stroke-opacity="0.22" stroke-width="0.8"/>
<line x1="403.2" y1="671.15" x2="419.5" y2="671.15" stroke="#000" stroke-opacity="0.05" stroke-width="0.8"/>
<line x1="403.2" y1="664.48" x2="419.5" y2="664.48" stroke="#000" stroke-opacity="0.22" stroke-width="0.8"/>
<line x1="403.2" y1="657.82" x2="419.5" y2="657.82" stroke="#000" stroke-opacity="0.05" stroke-width="0.8"/>
<line x1="403.2" y1="651.15" x2="419.5" y2="651.15" stroke="#000" stroke-opacity="0.22" stroke-width="0.8"/>
<line x1="403.2" y1="644.49" x2="419.5" y2="644.49" stroke="#000" stroke-opacity="0.05" stroke-width="0.8"/>
<line x1="403.2" y1="637.82" x2="419.5" y2="637.82" stroke="#000" stroke-opacity="0.22" stroke-width="0.8"/>
<line x1="403.2" y1="631.16" x2="419.5" y2="631.16" stroke="#000" stroke-opacity="0.05" stroke-width="0.8"/>
<line x1="403.2" y1="624.49" x2="419.5" y2="624.49" stroke="#000" stroke-opacity="0.22" stroke-width="0.8"/>
<line x1="403.2" y1="617.83" x2="419.5" y2="617.83" stroke="#000" stroke-opacity="0.05" stroke-width="0.8"/>
<line x1="403.2" y1="611.16" x2="419.5" y2="611.16" stroke="#000" stroke-opacity="0.22" stroke-width="0.8"/>
<line x1="403.2" y1="604.50" x2="419.5" y2="604.50" stroke="#000" stroke-opacity="0.05" stroke-width="0.8"/>
<line x1="403.2" y1="597.83" x2="419.5" y2="597.83" stroke="#000" stroke-opacity="0.22" stroke-width="0.8"/>
<line x1="403.2" y1="591.17" x2="419.5" y2="591.17" stroke="#000" stroke-opacity="0.05" stroke-width="0.8"/>
<line x1="403.2" y1="584.50" x2="419.5" y2="584.50" stroke="#000" stroke-opacity="0.22" stroke-width="0.8"/>
<line x1="403.2" y1="577.84" x2="419.5" y2="577.84" stroke="#000" stroke-opacity="0.05" stroke-width="0.8"/>
<line x1="403.2" y1="571.17" x2="419.5" y2="571.17" stroke="#000" stroke-opacity="0.22" stroke-width="0.8"/>
<line x1="403.2" y1="564.51" x2="419.5" y2="564.51" stroke="#000" stroke-opacity="0.05" stroke-width="0.8"/>
<line x1="403.2" y1="557.84" x2="419.5" y2="557.84" stroke="#000" stroke-opacity="0.22" stroke-width="0.8"/>
<rect x="403.2" y="554.51" width="16.3" height="166.99" fill="none" stroke="#999" stroke-opacity="0.5" stroke-width="0.6"/>
<text x="427.8" y="723.9" style="font-size:11.5px;font-family:'Liberation Sans',Arial,sans-serif" fill="#222">0</text>
<text x="427.8" y="710.6" style="font-size:11.5px;font-family:'Liberation Sans',Arial,sans-serif" fill="#222">10</text>
<text x="427.8" y="697.2" style="font-size:11.5px;font-family:'Liberation Sans',Arial,sans-serif" fill="#222">20</text>
<text x="427.8" y="683.9" style="font-size:11.5px;font-family:'Liberation Sans',Arial,sans-serif" fill="#222">30</text>
<text x="427.8" y="670.6" style="font-size:11.5px;font-family:'Liberation Sans',Arial,sans-serif" fill="#222">40</text>
<text x="427.8" y="657.2" style="font-size:11.5px;font-family:'Liberation Sans',Arial,sans-serif" fill="#222">50</text>
<text x="427.8" y="643.9" style="font-size:11.5px;font-family:'Liberation Sans',Arial,sans-serif" fill="#222">60</text>
<text x="427.8" y="630.6" style="font-size:11.5px;font-family:'Liberation Sans',Arial,sans-serif" fill="#222">70</text>
<text x="427.8" y="617.3" style="font-size:11.5px;font-family:'Liberation Sans',Arial,sans-serif" fill="#222">80</text>
<text x="427.8" y="603.9" style="font-size:11.5px;font-family:'Liberation Sans',Arial,sans-serif" fill="#222">90</text>
<text x="427.8" y="590.6" style="font-size:11.5px;font-family:'Liberation Sans',Arial,sans-serif" fill="#222">100</text>
<text x="427.8" y="577.3" style="font-size:11.5px;font-family:'Liberation Sans',Arial,sans-serif" fill="#222">110</text>
<text x="427.8" y="563.9" style="font-size:11.5px;font-family:'Liberation Sans',Arial,sans-serif" fill="#222">120</text>
<text x="404.0" y="534.1" style="font-size:13.3px;font-family:'Liberation Sans',Arial,sans-serif" fill="#222">PSD</text>
<text x="403.6" y="547.3" style="font-size:13.3px;font-family:'Liberation Sans',Arial,sans-serif" fill="#222">[dB/Hz]</text>
</g>
<g>
<g>
<rect x="575.8" y="523.4" width="251.0" height="198.7" fill="#306fb2"/>
<path d="M617.8 523.4l4.6 0 .4 26.3 .6-26.3 14.8 0 1 31 .6 1.1 4 1.7 2 3.1 2 1.2 9 0 1.8-1.2 2.2-2.7 3-1.6 .4-.6 .6-2 1.7-19 1.7-11 11.6 0 1 16.2 4-1.1 .4-15.1 141.6 0 0 198.7-251 0 0-154.3 13-2 7-2.9 6-1.2 1.5-1.4 2.2-3.9 4.3-2.1 1-1.9 1.7-8 1.3-1.5 3-1.4 .4-18.1z" fill="#3a7fbb"/>
<path d="M618.8 523.4l2.9 0 .5 32 .6 2.6 2-34.6 12.1 0 1.9 32.8 5.8 5.1 3.2 1.7 9 0 3.4-1.7 3.6-2.7 2.2-4.2 1.8-11.2 2-8.4 3-3.6 5-4.1 2 16.3 .8 3 .2 .4 4-3.3 .8-5.1 .3-15 64.1 0 1.8 16 .7-16 32 0 .9 2 2.3 2 14.1 8.3 9 .2 3 0 .3-12.5 6.1 0 .6 6.7 6 0 0 192-251 0 0-151.9 13-2.6 13-4 8-7.1 1.8-3.1 2.2-6.7 3-3.1 .4-1.2 .7-19z" fill="#4a90c5"/>
<path d="M618.8 523.4l2.4 0 .5 33 1.1 3.4 .9-4.4 2.3-32 9.6 0 2.3 31 .7 2.9 1.2 2 2.4 2 5.6 3.3 9 0 7-3.8 3.3-5.4 2.7-11.2 3-3.9 5-4.6 1.7 10.7 1.3 2.9 4-2.8 1.1-6.1 .3-17 38.4 0 1.2 7 1 1.8 23 .3 2 9.2 1-2.8 .3-15.5 7.1 0 .6 3.7 13.8 4.3 14.2 2.8 5 1.8 9 4.6 11 0 .7-17.2 4.9 0 .4 12.2 1 3 6 0 0 183.5-251 0 0-150.3 13-2.6 13-3.8 8-6.8 2.5-4.2 2.4-6 2.1-2.7 .7-2.3 .6-4 .3-16z" fill="#5d9fcd"/>
<path d="M619.8 523.4l.9 0 .7 33 .4 3.3 1 2 1.2-4.4 1.4-11.9 1.8-22 7 0 3.2 31 1.4 5.6 3 2.8 6 3.3 9 0 7.5-3.8 3.3-5 2.2-6.7 8-8.9 1.4 6.7 1.6 3.4 4-2.6 1-3.5 .4-4.3 .3-18 35.2 0 1.8 8 3.3 3.5 23 .2 2 8.4 1-1.7 .4-2.4 .3-16 5.9 0 .4 7 1 3.1 22 1.8 7 2.6 13 6.7 11 0 .9-9.2 .3-12 4 0 .8 17.7 1 1.7 6 0 0 179.3-251 0 0-149.1 14-2.6 12-3.5 9-7.6 6-11.4 .8-2.5 .9-5 .5-17z" fill="#76afd6"/>
<path d="M619.8 523.4l1.4 33.9 .6 4.7 .8 1.3 1.6-4 2-11.9 2.2-24 4.4 0 4.3 32 1.4 5.9 1.3 1.9 3 2.1 5 2.3 9 0 8-4 2.2-2.3 3.8-7.5 7-6.9 2 6.3 1 1.1 4-2.6 1-2.9 .6-6.4 .4-19 32.1 0 1.9 8 2 2.8 4 3.4 23 .2 2 7.5 1-1.5 .9-4.4 .3-16 4.8 0 1 12.8 1 1.9 21-.3 21 10.3 11 0 1.2-10.7 .4-14 3.2 0 1.2 21.7 1 1.4 6 0 0 175.6-251 0 0-147.9 15.3-2.9 10.7-3 3.3-2 6.3-6 5.7-10.9 1-3 .9-6z" fill="#8cbddd"/>
<path d="M629.8 523.4l1.6 0 2.2 16 4.5 22.9 .7 1.7 2 1.8 4 2.3 3 .9 9 0 8-3.6 3-2.6 3-5 7-6.6 1.8 4.2 1.2 1.1 4-2.6 1-2.3 .8-7.2 .5-21 29 0 1.7 7 1.4 3 3.6 4.2 4 3.2 23 .2 2 6.3 1-1.4 1.2-5.5 .4-17 3.8 0 1.1 14 .5 2.8 1 1.2 21-.4 17 8.8 4 1.5 11 0 1.5-11.9 .5-16 2.3 0 .5 15 1.2 10.1 1 1 6 0 0 172.6-251 0 0-146.7 18-3.3 8-2.3 4.3-2.5 4.7-4.5 3-3.9 4.6-10.5 .9-6 .5-11.1 1.1 27 .9 5.8 1 1.3 1.3-3.1 2.5-10.9z" fill="#a6cbe4"/>
<path d="M687.8 523.4l20.9 0 5.1 3.1 2 6 2.2 3.9 3.8 4.2 5 3.6 23 .1 2 4.9 1.3-1.8 1.3-6 .5-18 2.8 0 1 15 1.1 5 1 1 21-.1 14 7.4 7 2.6 11 0 1.6-9.9 .8-21 1.4 0 .8 18 1.4 10.2 1 .8 6 0 0 169.7-251 0 0-145.1 23-4.4 3-.9 5-2.8 6-6.2 2-3.1 4-9.1 1-7.5 1.2 19.3 .8 3.9 1 1 1.5-2.9 2.5-7.9 3-23.9 1-3.4 2.6 16.3 2.4 9.1 1.4 7.8 1.6 3.9 3 2.2 5 2.3 10 .1 5-1.8 6-3.7 10-10 2 3.2 1 .5 4-2.7 1-2.1 .9-5.8 .7-25z" fill="#bcd8eb"/>
<path d="M687.8 523.4l6.6 0 .4 2.4 19 9.9 5 6.7 3.7 3 4.3 2.4 23 .2 2 3.3 1.8-2.9 1.1-6 .6-19 1.8 0 1.1 17 1.6 6.7 1 .9 21 0 12 6.2 9 3.2 11 0 1.7-9 1.1-25 .4 0 1.2 22 1.6 9.8 1 .8 6 0 0 166.1-251 0 0-143.2 23-4.1 3-.7 4-2.1 4-3.1 4.5-5.6 4.5-8.2 1-3.5 .9 12.7 1.1 4.4 1 1.1 3.3-6.5 1.4-4 2.3-17.5 1-3.3 3.1 15.9 3.2 10.9 1.7 3.6 3 1.9 6 2.4 9 0 7-2.5 9.1-6.4 4.9-4.4 3 2 4-2.7 1-2.3 1.2-7.5z" fill="#d0e3f0"/>
<path d="M688.8 523.4l4 0 2 11.1 19 8.5 4.8 4.4 6.2 3.5 3 1.1 22 0 2 2.2 2-3.7 1.1-5.1 1-22 1.7 19 2.2 8.8 1 .8 21 0 11 5.7 10 3 11 0 2-9.3 1-19.8 1.1 17.8 1.9 10 1 .7 6 0 0 162-251 0 0-140.9 22-3.5 7-2.1 6.2-4.3 2.8-3.5 3-5.7 3-1.7 1.1 8.9 .9 3.2 1 .9 2.5-4.1 2.6-6 2.9-15.7 2.4 11.7 4.2 11 2.4 2.6 7 3 10 .2 5-1.2 4-1.8 8.9-5.8 3.1-2.5 3 .7 4-2.6 1.3-3.6 1.4-10.9 .6-25z" fill="#dde9f3"/>
<path d="M688.8 523.4l2.4 0 1.5 12 2.1 5.5 19 8.7 13 7.8 23 .1 2 .7 1.7-2.8 1.3-4.5 1-9.3 1 1.8 2 10.4 1 2.9 1 .8 21 0 8 3.7 11 3.2 13 .3 2-6.6 1-12.6 1.4 12.8 1.6 5.8 1 .4 6 0 0 157.6-251 0 0-137.4 26-3.9 3-1 4.9-2.5 2.1-1.7 3-3.8 2-4 3 3.5 1.4 5 1.6 1.7 2.5-2.7 2.2-4 3.3-11.7 2 7.6 3.3 7.1 1.7 1.6 9 3.9 10 .1 7-1 14-8.4 4-1.2 3-1.9 1-2 .8-4.1 1.1-9.9z" fill="#eaf0f6"/>
<path d="M688.8 531.5l2.6 10.9 2.4 4.4 9.1 4.6 15.6 9.9 6.3 2.5 3 .7 24-.2 2.6-5 1.4-6.7 1 1.9 2 7.7 1 1.8 1 .4 21 .1 20 4.7 12 .1 2-3.5 1-6.4 1.1 5.9 1.9 4.6 7 .3 0 151.9-251 0 0-131.3 30-5.1 7-3 4-4.2 3 6.1 3 .6 2-.8 1.8-2.1 4.2-7.5 2.3 5.5 2.7 4 3-.4 8 2.1 10 .1 7-1.2 13-5.3 8-5.9 1-1.8 1.4-7.6 .9-9.9z" fill="#f4f5f7"/>
<path d="M693.8 556.8l1-.2 4 2.2 10 9.2 8.9 4.3 9.1 5.9 23 .2 2 4 1-.2 .8-.9 2.2-3.7 1 0 2.3 1.7 1.7 .5 21-1.4 20 1.9 12 .1 3-1.1 3 6.8 7 .3 0 135.7-251 0 0-120.8 34-2 7 .5 3 1.6 3-1 4 .6 9-.2 11-1.1 11-.1 7-1.4 13-1.5 6-8.3 1.5-3.1 2.2-10 1.3-14.7z" fill="#faf0ea"/>
<path d="M697.8 603.1l3-.3 7 2.5 14.7 2 17.3 1.4 13 .1 6 1.7 16 2.7 23 2.4 15 4.6 1.6-2.9 2.4-2.8 2.5 3.8 1.5 5.1 6 0 0 98.7-251 0 0-90.8 42-.5 4.9-6.6 5.1-3.4 4 .1 2 .5 7 2.4 4 2.2 15 0 6-5.3 6-4 10-1.2 7-6.5 6-4.4z" fill="#fce5d8"/>
<path d="M697.8 611.1l3-.6 12 2.8 27 3.9 13 .1 6 5.7 16 2.1 23 .2 15 5 1.7-6.1 2.3-4.1 2 4.1 2 10.2 6 0 0 87.7-251 0 0-68.8 7 1.5 5-1.9 6-1.4 8 2 6 3.3 4-2.8 6-3.3 4-12.6 2.5-3.9 3.5-3.3 4 0 5 2.9 3 2.7 3.2 5.7 1.8 9 15-2.3 5.5-7.7 5.5-6.1 2-1.7 9-3.9 4-4.2 3.1-6 2.9-4.2 2-2z" fill="#fbd6c3"/>
<path d="M697.8 618.2l3-.7 7 4.3 6 1.1 26 3 13 .1 6.4 6.2 15.6 1.6 23 .5 15 5 4-14.6 1.2 3.5 2.8 15.1 6 0 0 78.8-218.6 0 1.8-25 2-12.9 2.5-8 3.3-5.7 2.9-16.3 1.8-7 2-5 2.3-3.7 1-1.1 4 .1 4 3.1 2.7 3.6 1.8 4 1.6 6 2.9 22.1 4.1-1.1 10.9-3.3 11-19.5 4-4.5 7-5 4-6.7 6.5-13.9 1.5-2.2zM591.8 662.1l2-.9 5 3.1 2.8 3.9 1.7 5 2.5 15.9 1.8 33-31.8 0 0-55.9 4 2.6 3 2.9 4.6-6.5z" fill="#f8c3a8"/>
<path d="M699.8 624.2l2 1 6 5.3 1 .2 31 3.2 13 .2 6 5.6 39 3.8 15 4.9 4-17.1 4 21.2 6 0 0 69.6-213.2 0 1.6-17 3.2-16.9 2.5-23 3.1-13 3.8-8.2 4 .2 3 2.1 2 2.8 2 4.8 3 13.3 3 27.2 15-3.2 5.3-8 11.2-22 5.5-7.4 1.6-4.6 3.4-6.1 4-9.9 3-6zM593.8 668.8l4 6.8 3.6 11.6 2.4 15.9 1.4 19-29.4 0 0-45.8 4 4.8 3 5.7 6.1-11.6z" fill="#f5ab88"/>
<path d="M697.8 632.2l2-.9 1 .3 7 5.8 32 4.2 13 .1 6 5.3 16 2.8 23 2.8 15 5 4-17 4 21 6 0 0 60.5-208.1 0 2-29 .4-17.9 2.6-13 4.1-11.6 4 0 3 2.1 1.9 3.5 2.5 8 1.7 12 .8 16.9 3.1 21.3 15-4.5 1-1.4 11-18 4.9-13.3 5.1-10.6 3-12.6 8.6-18.8 1.4-1.7zM593.8 679.4l3.2 7.8 2.5 8.9 2.1 12 1.5 14-27.3 0 0-36.6 7 13.3 7.3-13.6z" fill="#f29670"/>
<path d="M699.8 638.2l8 4.7 17 2.5 16 3.7 12 .1 6 5.7 1 .3 15 3.5 23 2.6 15 5.3 2-4.9 2-9 2.2 12.5 1.8 5.4 6 0 0 51.5-160.5 0 5.5-10.9 4.2-16.1 5.8-15.1 2.2-13.8 2.2-8 7.6-16.9zM628.8 657l3-.4 3 2.5 1.8 4.1 1.7 6 1.2 14-.5 9.9 2.4 29-19.6 0 1.5-29-.8-6.9-.1-9 2.8-13 2.6-7zM593.8 689.7l4.5 15.4 2.6 17-25.1 0 0-26.8 3.8 8.8 3.2 13.7 1.9-8.7 1.9-6z" fill="#ec8260"/>
<path d="M697.8 646.2l2-.9 1 .1 7 2.3 17.7 4.5 14.3 4.9 13 .3 6 6.9 16 4.4 23 2.3 15 5.6 2.5-3.4 1.5-3.9 2 7.3 2 4.1 6 0 0 41.4-152 0 3.7-19 3.3-10 4-25.9 8-18.6zM631.8 662l3 3 1 2 1.4 9.2 .3 8-1.3 8.9 .6 29-11.9 0 1-29-1.6-6.9-.4-9 1.8-8 2.1-6zM593.8 699.6l2.9 10.5 2 12-12.7 0 2.8-12.3 2.4-5.7zM575.9 708.1l3 14-3.1 0z" fill="#e46c52"/>
<path d="M703.8 651.9l2-.7 2 .5 5 4.9 27 14 13 .7 22 9.3 23 3 15 6.8 4-2.8 4 6.2 6 0 0 28.3-147.4 0 7.4-48.5 7-16.6 6-4.3zM630.8 666.9l1-.2 2.3 3.5 1.4 10-.7 6.8-3 5-4-1.5-1.6-4.3-.8-6 .4-5 2-6.8zM593.8 708.9l2.8 13.2-7.3 0 2.2-8zM630.8 720.8l1-.3 .4 1.6-2.5 0z" fill="#dc5a48"/>
<path d="M705.8 654.7l1 0 .4 .5-.4 2.7-1 .1-.4-.8zM694.8 667l5-.7 1 .4 7 6.5 16.8 8 15.2 9.2 1 .2 12-3.2 6-3.1 8 4.5 8 6 23 6.4 8.1 6.9 6.9 9 2-6.9 2-4.5 2.4 7.4 1 9-136.6 0 3.2-33.9 7-20.4zM629.8 673.1l2-.8 1.4 4.9-.2 6-1.2 4-4-2.6-.7-3.4-.1-4 .8-3zM593.8 719.2l.6 2.9-1.7 0z" fill="#d4473f"/>
<path d="M699.8 680.8l1 .6 .9 1.8 1.2 5.9 .9 14 .3 19-13.9 0 3.6-36.6 1-1.6zM758.8 697.8l7.4 7.3 8.6 12.9 5.5 4.1-36.8 0 1.2-3 2.1-2.9 6-5 2.9-8.1z" fill="#cb3038"/>
</g>
<path d="M518.0,405.4 A50,47 0 0 1 563.0,432.6 L619.8,442.8 L675.5,430.7 Q678.5,428.7 682.0,428.5 L817.0,431.4 L817.5,433.5 L758.5,437.1 L758.0,440.8 L690.0,443.1 L681.0,447.5 L623.4,476.8 L619.8,472.3 L575.5,498.5 L572.0,493.8 L568.1,496.4 A50,22.4 0 0 1 518.0,518.9 Z" fill="#535353"/>
<path d="M676.4,436.1 L688.7,433.3 L689.8,442.2 L680.9,446.7 Z" fill="#fff"/>
<path d="M752.0,436.7 L758.2,436.7 L758.2,440.7 L752.0,440.7 Z" fill="#fff"/>
<path d="M619.0,465.0 L623.2,477.0" stroke="#fff" stroke-width="1.2"/>
<line x1="575.7" y1="499.7" x2="575.7" y2="523.4" stroke="#8a8a8a" stroke-width="1"/>
<line x1="619.8" y1="473.4" x2="619.8" y2="523.4" stroke="#8a8a8a" stroke-width="1"/>
<line x1="681.3" y1="448.1" x2="681.3" y2="523.4" stroke="#8a8a8a" stroke-width="1"/>
<line x1="690.0" y1="443.6" x2="690.0" y2="523.4" stroke="#8a8a8a" stroke-width="1"/>
<line x1="758.3" y1="437.7" x2="758.3" y2="523.4" stroke="#8a8a8a" stroke-width="1"/>
<line x1="817.5" y1="434.0" x2="817.5" y2="523.4" stroke="#8a8a8a" stroke-width="1"/>
<line x1="826.8" y1="434.0" x2="826.8" y2="523.4" stroke="#8a8a8a" stroke-width="1"/>
<polyline points="575.7,499.7 619.8,473.4 623.4,477.8 681.3,448.1 690.0,443.6 752.0,441.3 758.0,441.3 758.3,437.7 817.5,434.0 826.8,434.0" fill="none" stroke="#1d1a70" stroke-width="2.2" stroke-linejoin="round"/>
<rect x="573.0" y="497.0" width="5.4" height="5.4" rx="0.8" fill="#b81a2a" stroke="#7a0f1c" stroke-width="0.7"/>
<rect x="617.1" y="470.7" width="5.4" height="5.4" rx="0.8" fill="#b81a2a" stroke="#7a0f1c" stroke-width="0.7"/>
<rect x="678.6" y="445.4" width="5.4" height="5.4" rx="0.8" fill="#b81a2a" stroke="#7a0f1c" stroke-width="0.7"/>
<rect x="687.3" y="440.9" width="5.4" height="5.4" rx="0.8" fill="#b81a2a" stroke="#7a0f1c" stroke-width="0.7"/>
<rect x="755.6" y="435.0" width="5.4" height="5.4" rx="0.8" fill="#b81a2a" stroke="#7a0f1c" stroke-width="0.7"/>
<rect x="814.8" y="431.3" width="5.4" height="5.4" rx="0.8" fill="#b81a2a" stroke="#7a0f1c" stroke-width="0.7"/>
<rect x="824.1" y="431.3" width="5.4" height="5.4" rx="0.8" fill="#b81a2a" stroke="#7a0f1c" stroke-width="0.7"/>
<line x1="518.1" y1="710.5" x2="575.8" y2="710.5" stroke="#8c8c8c" stroke-width="0.9"/>
<line x1="518.1" y1="702.3" x2="575.8" y2="702.3" stroke="#8c8c8c" stroke-width="0.9"/>
<line x1="518.1" y1="695.8" x2="575.8" y2="695.8" stroke="#8c8c8c" stroke-width="0.9"/>
<line x1="518.1" y1="690.6" x2="575.8" y2="690.6" stroke="#8c8c8c" stroke-width="0.9"/>
<line x1="518.1" y1="686.2" x2="575.8" y2="686.2" stroke="#8c8c8c" stroke-width="0.9"/>
<line x1="518.1" y1="682.3" x2="575.8" y2="682.3" stroke="#8c8c8c" stroke-width="0.9"/>
<line x1="518.1" y1="678.9" x2="575.8" y2="678.9" stroke="#8c8c8c" stroke-width="0.9"/>
<line x1="518.1" y1="675.9" x2="575.8" y2="675.9" stroke="#8c8c8c" stroke-width="0.9"/>
<line x1="518.1" y1="656.0" x2="575.8" y2="656.0" stroke="#8c8c8c" stroke-width="0.9"/>
<line x1="518.1" y1="644.3" x2="575.8" y2="644.3" stroke="#8c8c8c" stroke-width="0.9"/>
<line x1="518.1" y1="636.0" x2="575.8" y2="636.0" stroke="#8c8c8c" stroke-width="0.9"/>
<line x1="518.1" y1="629.6" x2="575.8" y2="629.6" stroke="#8c8c8c" stroke-width="0.9"/>
<line x1="518.1" y1="624.3" x2="575.8" y2="624.3" stroke="#8c8c8c" stroke-width="0.9"/>
<line x1="518.1" y1="619.9" x2="575.8" y2="619.9" stroke="#8c8c8c" stroke-width="0.9"/>
<line x1="518.1" y1="616.1" x2="575.8" y2="616.1" stroke="#8c8c8c" stroke-width="0.9"/>
<line x1="518.1" y1="612.7" x2="575.8" y2="612.7" stroke="#8c8c8c" stroke-width="0.9"/>
<line x1="518.1" y1="609.6" x2="575.8" y2="609.6" stroke="#8c8c8c" stroke-width="0.9"/>
<line x1="518.1" y1="589.7" x2="575.8" y2="589.7" stroke="#8c8c8c" stroke-width="0.9"/>
<line x1="518.1" y1="578.0" x2="575.8" y2="578.0" stroke="#8c8c8c" stroke-width="0.9"/>
<line x1="518.1" y1="569.8" x2="575.8" y2="569.8" stroke="#8c8c8c" stroke-width="0.9"/>
<line x1="518.1" y1="563.3" x2="575.8" y2="563.3" stroke="#8c8c8c" stroke-width="0.9"/>
<line x1="518.1" y1="558.1" x2="575.8" y2="558.1" stroke="#8c8c8c" stroke-width="0.9"/>
<line x1="518.1" y1="553.7" x2="575.8" y2="553.7" stroke="#8c8c8c" stroke-width="0.9"/>
<line x1="518.1" y1="549.8" x2="575.8" y2="549.8" stroke="#8c8c8c" stroke-width="0.9"/>
<line x1="518.1" y1="546.4" x2="575.8" y2="546.4" stroke="#8c8c8c" stroke-width="0.9"/>
<line x1="518.1" y1="543.4" x2="575.8" y2="543.4" stroke="#8c8c8c" stroke-width="0.9"/>
<line x1="518.1" y1="523.4" x2="575.8" y2="523.4" stroke="#9a9a9a" stroke-width="1.1"/>
<line x1="575.8" y1="523.4" x2="831.5" y2="523.4" stroke="#4a4a4a" stroke-width="1.2"/>
<line x1="827.1" y1="523.4" x2="827.1" y2="722.1" stroke="#999" stroke-width="1.2"/>
<line x1="827.1" y1="710.5" x2="832.0" y2="710.5" stroke="#777" stroke-width="1"/>
<line x1="827.1" y1="702.3" x2="832.0" y2="702.3" stroke="#777" stroke-width="1"/>
<line x1="827.1" y1="695.8" x2="832.0" y2="695.8" stroke="#777" stroke-width="1"/>
<line x1="827.1" y1="690.6" x2="832.0" y2="690.6" stroke="#777" stroke-width="1"/>
<line x1="827.1" y1="686.2" x2="832.0" y2="686.2" stroke="#777" stroke-width="1"/>
<line x1="827.1" y1="682.3" x2="832.0" y2="682.3" stroke="#777" stroke-width="1"/>
<line x1="827.1" y1="678.9" x2="832.0" y2="678.9" stroke="#777" stroke-width="1"/>
<line x1="827.1" y1="675.9" x2="832.0" y2="675.9" stroke="#777" stroke-width="1"/>
<line x1="827.1" y1="656.0" x2="832.0" y2="656.0" stroke="#777" stroke-width="1"/>
<line x1="827.1" y1="644.3" x2="832.0" y2="644.3" stroke="#777" stroke-width="1"/>
<line x1="827.1" y1="636.0" x2="832.0" y2="636.0" stroke="#777" stroke-width="1"/>
<line x1="827.1" y1="629.6" x2="832.0" y2="629.6" stroke="#777" stroke-width="1"/>
<line x1="827.1" y1="624.3" x2="832.0" y2="624.3" stroke="#777" stroke-width="1"/>
<line x1="827.1" y1="619.9" x2="832.0" y2="619.9" stroke="#777" stroke-width="1"/>
<line x1="827.1" y1="616.1" x2="832.0" y2="616.1" stroke="#777" stroke-width="1"/>
<line x1="827.1" y1="612.7" x2="832.0" y2="612.7" stroke="#777" stroke-width="1"/>
<line x1="827.1" y1="609.6" x2="832.0" y2="609.6" stroke="#777" stroke-width="1"/>
<line x1="827.1" y1="589.7" x2="832.0" y2="589.7" stroke="#777" stroke-width="1"/>
<line x1="827.1" y1="578.0" x2="832.0" y2="578.0" stroke="#777" stroke-width="1"/>
<line x1="827.1" y1="569.8" x2="832.0" y2="569.8" stroke="#777" stroke-width="1"/>
<line x1="827.1" y1="563.3" x2="832.0" y2="563.3" stroke="#777" stroke-width="1"/>
<line x1="827.1" y1="558.1" x2="832.0" y2="558.1" stroke="#777" stroke-width="1"/>
<line x1="827.1" y1="553.7" x2="832.0" y2="553.7" stroke="#777" stroke-width="1"/>
<line x1="827.1" y1="549.8" x2="832.0" y2="549.8" stroke="#777" stroke-width="1"/>
<line x1="827.1" y1="546.4" x2="832.0" y2="546.4" stroke="#777" stroke-width="1"/>
<line x1="827.1" y1="543.4" x2="832.0" y2="543.4" stroke="#777" stroke-width="1"/>
<line x1="518.1" y1="403.7" x2="518.1" y2="722.8" stroke="#111" stroke-width="1.4"/>
<line x1="518.1" y1="410.4" x2="525.5" y2="410.4" stroke="#111" stroke-width="1.4"/>
<line x1="518.1" y1="476.7" x2="525.5" y2="476.7" stroke="#111" stroke-width="1.4"/>
<line x1="517.4" y1="722.1" x2="831.5" y2="722.1" stroke="#111" stroke-width="1.5"/>
<line x1="518.1" y1="722.1" x2="518.1" y2="714.9" stroke="#111" stroke-width="1.4"/>
<line x1="530.4" y1="722.1" x2="530.4" y2="718.1" stroke="#111" stroke-width="1"/>
<line x1="542.8" y1="722.1" x2="542.8" y2="718.1" stroke="#111" stroke-width="1"/>
<line x1="555.1" y1="722.1" x2="555.1" y2="718.1" stroke="#111" stroke-width="1"/>
<line x1="567.5" y1="722.1" x2="567.5" y2="718.1" stroke="#111" stroke-width="1"/>
<line x1="579.8" y1="722.1" x2="579.8" y2="714.9" stroke="#111" stroke-width="1.4"/>
<line x1="592.2" y1="722.1" x2="592.2" y2="718.1" stroke="#111" stroke-width="1"/>
<line x1="604.5" y1="722.1" x2="604.5" y2="718.1" stroke="#111" stroke-width="1"/>
<line x1="616.9" y1="722.1" x2="616.9" y2="718.1" stroke="#111" stroke-width="1"/>
<line x1="629.2" y1="722.1" x2="629.2" y2="718.1" stroke="#111" stroke-width="1"/>
<line x1="641.6" y1="722.1" x2="641.6" y2="714.9" stroke="#111" stroke-width="1.4"/>
<line x1="653.9" y1="722.1" x2="653.9" y2="718.1" stroke="#111" stroke-width="1"/>
<line x1="666.3" y1="722.1" x2="666.3" y2="718.1" stroke="#111" stroke-width="1"/>
<line x1="678.6" y1="722.1" x2="678.6" y2="718.1" stroke="#111" stroke-width="1"/>
<line x1="691.0" y1="722.1" x2="691.0" y2="718.1" stroke="#111" stroke-width="1"/>
<line x1="703.3" y1="722.1" x2="703.3" y2="714.9" stroke="#111" stroke-width="1.4"/>
<line x1="715.7" y1="722.1" x2="715.7" y2="718.1" stroke="#111" stroke-width="1"/>
<line x1="728.0" y1="722.1" x2="728.0" y2="718.1" stroke="#111" stroke-width="1"/>
<line x1="740.4" y1="722.1" x2="740.4" y2="718.1" stroke="#111" stroke-width="1"/>
<line x1="752.7" y1="722.1" x2="752.7" y2="718.1" stroke="#111" stroke-width="1"/>
<line x1="765.1" y1="722.1" x2="765.1" y2="714.9" stroke="#111" stroke-width="1.4"/>
<line x1="777.4" y1="722.1" x2="777.4" y2="718.1" stroke="#111" stroke-width="1"/>
<line x1="789.8" y1="722.1" x2="789.8" y2="718.1" stroke="#111" stroke-width="1"/>
<line x1="802.1" y1="722.1" x2="802.1" y2="718.1" stroke="#111" stroke-width="1"/>
<line x1="814.5" y1="722.1" x2="814.5" y2="718.1" stroke="#111" stroke-width="1"/>
<line x1="826.8" y1="722.1" x2="826.8" y2="714.9" stroke="#111" stroke-width="1.4"/>
<line x1="518.1" y1="675.9" x2="526.1" y2="675.9" stroke="#111" stroke-width="1.4"/>
<line x1="518.1" y1="609.6" x2="526.1" y2="609.6" stroke="#111" stroke-width="1.4"/>
<line x1="518.1" y1="543.4" x2="526.1" y2="543.4" stroke="#111" stroke-width="1.4"/>
<text x="512.8" y="680.0" text-anchor="end" style="font-size:11.5px;font-family:'Liberation Sans',Arial,sans-serif" fill="#222">100</text>
<text x="512.8" y="613.8" text-anchor="end" style="font-size:11.5px;font-family:'Liberation Sans',Arial,sans-serif" fill="#222">1000</text>
<text x="512.8" y="547.5" text-anchor="end" style="font-size:11.5px;font-family:'Liberation Sans',Arial,sans-serif" fill="#222">10000</text>
<text x="518.1" y="734.7" text-anchor="middle" style="font-size:11.5px;font-family:'Liberation Sans',Arial,sans-serif" fill="#222">0</text>
<text x="579.8" y="734.7" text-anchor="middle" style="font-size:11.5px;font-family:'Liberation Sans',Arial,sans-serif" fill="#222">2</text>
<text x="641.6" y="734.7" text-anchor="middle" style="font-size:11.5px;font-family:'Liberation Sans',Arial,sans-serif" fill="#222">4</text>
<text x="703.3" y="734.7" text-anchor="middle" style="font-size:11.5px;font-family:'Liberation Sans',Arial,sans-serif" fill="#222">6</text>
<text x="765.1" y="734.7" text-anchor="middle" style="font-size:11.5px;font-family:'Liberation Sans',Arial,sans-serif" fill="#222">8</text>
<text x="826.8" y="734.7" text-anchor="middle" style="font-size:11.5px;font-family:'Liberation Sans',Arial,sans-serif" fill="#222">10</text>
<text x="674.3" y="747.2" text-anchor="middle" style="font-size:13.5px;font-weight:bold;font-family:'Liberation Sans',Arial,sans-serif" fill="#111">Z [m]</text>
<text transform="translate(480.6,620.1) rotate(-90)" text-anchor="middle" style="font-size:13.5px;font-weight:bold;font-family:'Liberation Sans',Arial,sans-serif" fill="#111">f [Hz]</text>
<rect x="845.2" y="717.80" width="16.3" height="3.70" fill="#2a62a8"/>
<rect x="845.2" y="711.14" width="16.3" height="6.66" fill="#306fb2"/>
<rect x="845.2" y="704.47" width="16.3" height="6.67" fill="#3a7fbb"/>
<rect x="845.2" y="697.81" width="16.3" height="6.67" fill="#4a90c5"/>
<rect x="845.2" y="691.14" width="16.3" height="6.66" fill="#5d9fcd"/>
<rect x="845.2" y="684.48" width="16.3" height="6.67" fill="#76afd6"/>
<rect x="845.2" y="677.81" width="16.3" height="6.67" fill="#8cbddd"/>
<rect x="845.2" y="671.15" width="16.3" height="6.66" fill="#a6cbe4"/>
<rect x="845.2" y="664.48" width="16.3" height="6.67" fill="#bcd8eb"/>
<rect x="845.2" y="657.82" width="16.3" height="6.66" fill="#d0e3f0"/>
<rect x="845.2" y="651.15" width="16.3" height="6.67" fill="#dde9f3"/>
<rect x="845.2" y="644.49" width="16.3" height="6.67" fill="#eaf0f6"/>
<rect x="845.2" y="637.82" width="16.3" height="6.66" fill="#f4f5f7"/>
<rect x="845.2" y="631.16" width="16.3" height="6.66" fill="#faf0ea"/>
<rect x="845.2" y="624.49" width="16.3" height="6.67" fill="#fce5d8"/>
<rect x="845.2" y="617.83" width="16.3" height="6.66" fill="#fbd6c3"/>
<rect x="845.2" y="611.16" width="16.3" height="6.67" fill="#f8c3a8"/>
<rect x="845.2" y="604.50" width="16.3" height="6.66" fill="#f5ab88"/>
<rect x="845.2" y="597.83" width="16.3" height="6.66" fill="#f29670"/>
<rect x="845.2" y="591.17" width="16.3" height="6.67" fill="#ec8260"/>
<rect x="845.2" y="584.50" width="16.3" height="6.66" fill="#e46c52"/>
<rect x="845.2" y="577.84" width="16.3" height="6.66" fill="#dc5a48"/>
<rect x="845.2" y="571.17" width="16.3" height="6.67" fill="#d4473f"/>
<rect x="845.2" y="564.51" width="16.3" height="6.66" fill="#cb3038"/>
<rect x="845.2" y="557.84" width="16.3" height="6.66" fill="#c4202f"/>
<rect x="845.2" y="554.51" width="16.3" height="3.33" fill="#c4202f"/>
<line x1="845.2" y1="717.80" x2="861.5" y2="717.80" stroke="#000" stroke-opacity="0.22" stroke-width="0.8"/>
<line x1="845.2" y1="711.14" x2="861.5" y2="711.14" stroke="#000" stroke-opacity="0.05" stroke-width="0.8"/>
<line x1="845.2" y1="704.47" x2="861.5" y2="704.47" stroke="#000" stroke-opacity="0.22" stroke-width="0.8"/>
<line x1="845.2" y1="697.81" x2="861.5" y2="697.81" stroke="#000" stroke-opacity="0.05" stroke-width="0.8"/>
<line x1="845.2" y1="691.14" x2="861.5" y2="691.14" stroke="#000" stroke-opacity="0.22" stroke-width="0.8"/>
<line x1="845.2" y1="684.48" x2="861.5" y2="684.48" stroke="#000" stroke-opacity="0.05" stroke-width="0.8"/>
<line x1="845.2" y1="677.81" x2="861.5" y2="677.81" stroke="#000" stroke-opacity="0.22" stroke-width="0.8"/>
<line x1="845.2" y1="671.15" x2="861.5" y2="671.15" stroke="#000" stroke-opacity="0.05" stroke-width="0.8"/>
<line x1="845.2" y1="664.48" x2="861.5" y2="664.48" stroke="#000" stroke-opacity="0.22" stroke-width="0.8"/>
<line x1="845.2" y1="657.82" x2="861.5" y2="657.82" stroke="#000" stroke-opacity="0.05" stroke-width="0.8"/>
<line x1="845.2" y1="651.15" x2="861.5" y2="651.15" stroke="#000" stroke-opacity="0.22" stroke-width="0.8"/>
<line x1="845.2" y1="644.49" x2="861.5" y2="644.49" stroke="#000" stroke-opacity="0.05" stroke-width="0.8"/>
<line x1="845.2" y1="637.82" x2="861.5" y2="637.82" stroke="#000" stroke-opacity="0.22" stroke-width="0.8"/>
<line x1="845.2" y1="631.16" x2="861.5" y2="631.16" stroke="#000" stroke-opacity="0.05" stroke-width="0.8"/>
<line x1="845.2" y1="624.49" x2="861.5" y2="624.49" stroke="#000" stroke-opacity="0.22" stroke-width="0.8"/>
<line x1="845.2" y1="617.83" x2="861.5" y2="617.83" stroke="#000" stroke-opacity="0.05" stroke-width="0.8"/>
<line x1="845.2" y1="611.16" x2="861.5" y2="611.16" stroke="#000" stroke-opacity="0.22" stroke-width="0.8"/>
<line x1="845.2" y1="604.50" x2="861.5" y2="604.50" stroke="#000" stroke-opacity="0.05" stroke-width="0.8"/>
<line x1="845.2" y1="597.83" x2="861.5" y2="597.83" stroke="#000" stroke-opacity="0.22" stroke-width="0.8"/>
<line x1="845.2" y1="591.17" x2="861.5" y2="591.17" stroke="#000" stroke-opacity="0.05" stroke-width="0.8"/>
<line x1="845.2" y1="584.50" x2="861.5" y2="584.50" stroke="#000" stroke-opacity="0.22" stroke-width="0.8"/>
<line x1="845.2" y1="577.84" x2="861.5" y2="577.84" stroke="#000" stroke-opacity="0.05" stroke-width="0.8"/>
<line x1="845.2" y1="571.17" x2="861.5" y2="571.17" stroke="#000" stroke-opacity="0.22" stroke-width="0.8"/>
<line x1="845.2" y1="564.51" x2="861.5" y2="564.51" stroke="#000" stroke-opacity="0.05" stroke-width="0.8"/>
<line x1="845.2" y1="557.84" x2="861.5" y2="557.84" stroke="#000" stroke-opacity="0.22" stroke-width="0.8"/>
<rect x="845.2" y="554.51" width="16.3" height="166.99" fill="none" stroke="#999" stroke-opacity="0.5" stroke-width="0.6"/>
<text x="869.8" y="723.9" style="font-size:11.5px;font-family:'Liberation Sans',Arial,sans-serif" fill="#222">0</text>
<text x="869.8" y="710.6" style="font-size:11.5px;font-family:'Liberation Sans',Arial,sans-serif" fill="#222">10</text>
<text x="869.8" y="697.2" style="font-size:11.5px;font-family:'Liberation Sans',Arial,sans-serif" fill="#222">20</text>
<text x="869.8" y="683.9" style="font-size:11.5px;font-family:'Liberation Sans',Arial,sans-serif" fill="#222">30</text>
<text x="869.8" y="670.6" style="font-size:11.5px;font-family:'Liberation Sans',Arial,sans-serif" fill="#222">40</text>
<text x="869.8" y="657.2" style="font-size:11.5px;font-family:'Liberation Sans',Arial,sans-serif" fill="#222">50</text>
<text x="869.8" y="643.9" style="font-size:11.5px;font-family:'Liberation Sans',Arial,sans-serif" fill="#222">60</text>
<text x="869.8" y="630.6" style="font-size:11.5px;font-family:'Liberation Sans',Arial,sans-serif" fill="#222">70</text>
<text x="869.8" y="617.3" style="font-size:11.5px;font-family:'Liberation Sans',Arial,sans-serif" fill="#222">80</text>
<text x="869.8" y="603.9" style="font-size:11.5px;font-family:'Liberation Sans',Arial,sans-serif" fill="#222">90</text>
<text x="869.8" y="590.6" style="font-size:11.5px;font-family:'Liberation Sans',Arial,sans-serif" fill="#222">100</text>
<text x="869.8" y="577.3" style="font-size:11.5px;font-family:'Liberation Sans',Arial,sans-serif" fill="#222">110</text>
<text x="869.8" y="563.9" style="font-size:11.5px;font-family:'Liberation Sans',Arial,sans-serif" fill="#222">120</text>
<text x="846.0" y="534.1" style="font-size:13.3px;font-family:'Liberation Sans',Arial,sans-serif" fill="#222">PSD</text>
<text x="845.6" y="547.3" style="font-size:13.3px;font-family:'Liberation Sans',Arial,sans-serif" fill="#222">[dB/Hz]</text>
</g>
</svg></body></html>
